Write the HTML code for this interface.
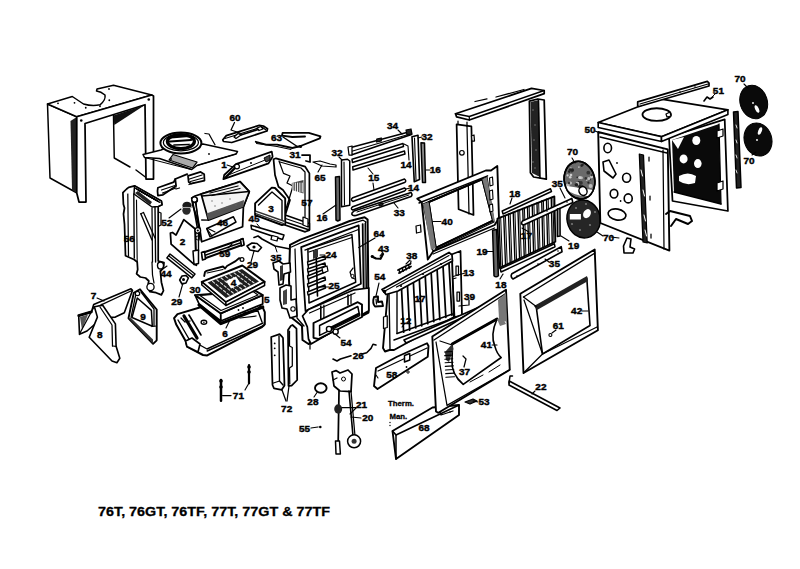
<!DOCTYPE html>
<html><head><meta charset="utf-8"><style>
html,body{margin:0;padding:0;background:#fff;width:800px;height:569px;overflow:hidden}
svg{display:block}
text{font-family:"Liberation Sans",sans-serif;font-weight:bold;fill:#000}
</style></head><body>
<svg width="800" height="569" viewBox="0 0 800 569">
<path d="M47.5,104 L76.75,116.75 L77,193 L50,178 Z" fill="#fff" stroke="#000" stroke-width="1.50" stroke-linejoin="round" />
<path d="M70.5,121 L76.75,117 L77,193 L72,190 Z" fill="#222" stroke="none"/>
<path d="M47.5,104 L72.3,96.5 L83.5,104 Q92,106.5 100,104.8 Q106,100 105,95 Q101,91.5 96.5,91 L97,89 L113.5,85.25 L151.75,95 L76.75,116.75 Z" fill="#fff" stroke="#000" stroke-width="1.50" stroke-linejoin="round" />
<circle cx="58" cy="103.3" r="0.9" fill="#000" stroke="#000" stroke-width="0"/>
<circle cx="74.5" cy="102.8" r="0.9" fill="#000" stroke="#000" stroke-width="0"/>
<circle cx="85.75" cy="107.75" r="0.9" fill="#000" stroke="#000" stroke-width="0"/>
<circle cx="100" cy="106.25" r="0.9" fill="#000" stroke="#000" stroke-width="0"/>
<circle cx="109.3" cy="100.25" r="0.9" fill="#000" stroke="#000" stroke-width="0"/>
<circle cx="109" cy="89" r="0.9" fill="#000" stroke="#000" stroke-width="0"/>
<path d="M113.5,115.25 L114.25,158 L130,167" fill="none" stroke="#000" stroke-width="1.50" stroke-linejoin="round" stroke-linecap="round"/>
<path d="M136,170 L146,177.5" fill="none" stroke="#000" stroke-width="1.50" stroke-linejoin="round" stroke-linecap="round"/>
<path d="M113.5,115.5 L145,105 L114.25,125 Z" fill="#111" stroke="none"/>
<path d="M76.75,116.75 L151.75,95 L153.5,96 L153.5,179 L146,179 L145,104.75 L85,123.5 L86,202 L79,202 L76.75,193 Z" fill="#fff" stroke="#000" stroke-width="1.75" stroke-linejoin="round" />
<circle cx="81.25" cy="120.5" r="1.3" fill="#000" stroke="#000" stroke-width="0"/>
<circle cx="148.75" cy="99.5" r="1.3" fill="#000" stroke="#000" stroke-width="0"/>
<path d="M143,154.5 L161,150 L170,146 L203,144 L237.5,151.5 L236,154 L197,165.5 L191.75,169.5 L159.5,158.5 L144.5,157.5 Z" fill="#fff" stroke="#000" stroke-width="1.50" stroke-linejoin="round" />
<path d="M144.5,157.5 L191,169.5" fill="none" stroke="#000" stroke-width="1.00" stroke-linejoin="round" stroke-linecap="round"/>
<path d="M197,165.5 L236,154" fill="none" stroke="#000" stroke-width="1.00" stroke-linejoin="round" stroke-linecap="round"/>
<path d="M173,154.5 L197,162 L192.5,168 L169,160 Z" fill="#aaa" stroke="#000" stroke-width="1.25" stroke-linejoin="round" />
<ellipse cx="180.9" cy="143" rx="20.5" ry="10.5" transform="rotate(0 180.9 143)" fill="#fff" stroke="#000" stroke-width="2.00"/>
<ellipse cx="180.9" cy="142.5" rx="17.5" ry="8.3" transform="rotate(0 180.9 142.5)" fill="none" stroke="#000" stroke-width="1.25"/>
<ellipse cx="180.9" cy="141.5" rx="13.5" ry="7" transform="rotate(0 180.9 141.5)" fill="#fff" stroke="#000" stroke-width="3.25"/>
<path d="M171,137.5 L189,136" fill="none" stroke="#000" stroke-width="2.00" stroke-linejoin="round" stroke-linecap="round"/>
<path d="M170,141.5 L191,140" fill="none" stroke="#000" stroke-width="2.25" stroke-linejoin="round" stroke-linecap="round"/>
<path d="M174,145 L189,144.5" fill="none" stroke="#000" stroke-width="1.75" stroke-linejoin="round" stroke-linecap="round"/>
<path d="M205,133.5 L209,134 L212,139.5 L215,144.75" fill="none" stroke="#000" stroke-width="1.25" stroke-linejoin="round" stroke-linecap="round"/>
<circle cx="209" cy="154" r="0.9" fill="#000" stroke="#000" stroke-width="0"/>
<circle cx="171" cy="159" r="0.9" fill="#000" stroke="#000" stroke-width="0"/>
<path d="M222.8,139.8 L226.3,135.6 L259.3,125.3 L263.4,126 L267.5,128.8 L267,131 L231.8,142.5 L223.5,141.5 Z" fill="#fff" stroke="#000" stroke-width="1.75" stroke-linejoin="round" />
<path d="M225,138.5 L262,127 L266,130" fill="none" stroke="#000" stroke-width="1.25" stroke-linejoin="round" stroke-linecap="round"/>
<path d="M234,137 L238,133.5 L241,135 L236,138.5 Z" fill="#fff" stroke="#000" stroke-width="1.25" stroke-linejoin="round" />
<path d="M257,128 L261,126.5 L263,129 L259,130.5 Z" fill="#fff" stroke="#000" stroke-width="1.25" stroke-linejoin="round" />
<path d="M241,135 L258,129.5" fill="none" stroke="#000" stroke-width="1.62" stroke-linejoin="round" stroke-linecap="round"/>
<path d="M234.5,122.5 L231,130 L240,133" fill="none" stroke="#000" stroke-width="1.25" stroke-linejoin="round" stroke-linecap="round"/>
<text x="235" y="120.70" font-size="9.1" text-anchor="middle" textLength="11.13" lengthAdjust="spacingAndGlyphs" stroke="#000" stroke-width="0.4">60</text>
<path d="M255.8,141.8 L266.1,144.6 L277.1,144.6 L292.3,148 L300.5,146 L319.8,138.4 L320.5,136.3 L308.8,132.9 L282.6,132.9 L282,135.6 L292.3,137 L305,136.5" fill="none" stroke="#000" stroke-width="1.88" stroke-linejoin="round" stroke-linecap="round"/>
<path d="M256.5,143.5 L277,146.5 L291,149.5" fill="none" stroke="#000" stroke-width="1.12" stroke-linejoin="round" stroke-linecap="round"/>
<path d="M283,137 L298,147" fill="none" stroke="#000" stroke-width="1.50" stroke-linejoin="round" stroke-linecap="round"/>
<circle cx="300.5" cy="146.5" r="1.6" fill="#000" stroke="#000" stroke-width="0"/>
<text x="276.5" y="140.90" font-size="9.1" text-anchor="middle" textLength="11.13" lengthAdjust="spacingAndGlyphs" stroke="#000" stroke-width="0.4">63</text>
<path d="M302,155 L310,155 L310,162 L306,161" fill="none" stroke="#000" stroke-width="1.75" stroke-linejoin="round" stroke-linecap="round"/>
<text x="295" y="158.20" font-size="9.1" text-anchor="middle" textLength="11.13" lengthAdjust="spacingAndGlyphs" stroke="#000" stroke-width="0.4">31</text>
<path d="M313,162 L320,161 L330,164 L336,165 L336,167 L322,166 Z" fill="#fff" stroke="#000" stroke-width="1.25" stroke-linejoin="round" />
<path d="M318,172 L322,165" fill="none" stroke="#000" stroke-width="1.12" stroke-linejoin="round" stroke-linecap="round"/>
<text x="320" y="180.70" font-size="9.1" text-anchor="middle" textLength="11.13" lengthAdjust="spacingAndGlyphs" stroke="#000" stroke-width="0.4">65</text>
<path d="M175.3,179 L187.2,174.2" fill="none" stroke="#000" stroke-width="1.88" stroke-linejoin="round" stroke-linecap="round"/>
<path d="M157.9,187.7 L173.7,182.1 L175.3,179 L176.1,186.1 L163,194.8 L157.9,195.6 L157.5,191 Z" fill="#fff" stroke="#000" stroke-width="1.75" stroke-linejoin="round" />
<path d="M161.5,190 L175,185.5" fill="none" stroke="#000" stroke-width="1.25" stroke-linejoin="round" stroke-linecap="round"/>
<path d="M162.5,193 L176,188" fill="none" stroke="#000" stroke-width="1.25" stroke-linejoin="round" stroke-linecap="round"/>
<path d="M176,189 L179.5,188" fill="none" stroke="#000" stroke-width="1.25" stroke-linejoin="round" stroke-linecap="round"/>
<path d="M188,175.8 L200.6,171.9 L204.2,174.2 L204.5,180.6 L191.1,183.7 L188.7,182.1 Z" fill="#fff" stroke="#000" stroke-width="1.75" stroke-linejoin="round" />
<path d="M189.5,179 L202,175" fill="none" stroke="#000" stroke-width="1.25" stroke-linejoin="round" stroke-linecap="round"/>
<path d="M190.5,181.5 L203,178" fill="none" stroke="#000" stroke-width="1.25" stroke-linejoin="round" stroke-linecap="round"/>
<path d="M189,184.5 L195,182.5" fill="none" stroke="#000" stroke-width="1.25" stroke-linejoin="round" stroke-linecap="round"/>
<path d="M224.2,175 L235.9,164.2 L271.8,151.7 L272.6,156.7 L268.5,163.4 L223.4,179.2 Z" fill="#fff" stroke="#000" stroke-width="1.75" stroke-linejoin="round" />
<path d="M226,176 L270,158" fill="none" stroke="#000" stroke-width="1.00" stroke-linejoin="round" stroke-linecap="round"/>
<path d="M225,178 L233,170 L236,167" fill="none" stroke="#000" stroke-width="2.25" stroke-linejoin="round" stroke-linecap="round"/>
<circle cx="237" cy="166.5" r="2.4" fill="#fff" stroke="#000" stroke-width="1.2"/>
<circle cx="251" cy="163" r="1" fill="#000" stroke="#000" stroke-width="0"/>
<path d="M264,158 L270,155 L270,160 L266,162 Z" fill="#444" stroke="#000" stroke-width="1.00" stroke-linejoin="round" />
<text x="224" y="168.20" font-size="9.1" text-anchor="middle" textLength="5.57" lengthAdjust="spacingAndGlyphs" stroke="#000" stroke-width="0.4">1</text>
<path d="M227,165 L233,167" fill="none" stroke="#000" stroke-width="1.12" stroke-linejoin="round" stroke-linecap="round"/>
<path d="M273.5,159.2 L276,158.3 L305.2,166.7 L309.4,173.4 L309.4,230.1 L305.2,231.8 L285,225 L285.2,215.1 L290,200 L283,190 L278.5,186.7 L275,175 Z" fill="#fff" stroke="#000" stroke-width="1.75" stroke-linejoin="round" />
<path d="M279,161 L283.5,173.4 L290,176 L287,183 L293,186 L290,196 L285,212" fill="none" stroke="#000" stroke-width="1.25" stroke-linejoin="round" stroke-linecap="round"/>
<path d="M280,162 L301,168 L305,172 L305,222" fill="none" stroke="#000" stroke-width="1.25" stroke-linejoin="round" stroke-linecap="round"/>
<path d="M291.8,183 L303.5,180 L303.5,193.4 L291.8,190 Z" fill="#444" stroke="none"/>
<path d="M293,183 L293,192" fill="none" stroke="#fff" stroke-width="1.00" stroke-linejoin="round" stroke-linecap="round"/>
<path d="M295.3,183 L295.3,192" fill="none" stroke="#fff" stroke-width="1.00" stroke-linejoin="round" stroke-linecap="round"/>
<path d="M297.6,183 L297.6,192" fill="none" stroke="#fff" stroke-width="1.00" stroke-linejoin="round" stroke-linecap="round"/>
<path d="M299.9,183 L299.9,192" fill="none" stroke="#fff" stroke-width="1.00" stroke-linejoin="round" stroke-linecap="round"/>
<path d="M302.2,183 L302.2,192" fill="none" stroke="#fff" stroke-width="1.00" stroke-linejoin="round" stroke-linecap="round"/>
<path d="M285.2,215.1 L309.4,223.5 L309.4,230.1 L285.2,222 Z" fill="#fff" stroke="#000" stroke-width="1.62" stroke-linejoin="round" />
<path d="M285.5,218.5 L309,226.5" fill="none" stroke="#000" stroke-width="1.25" stroke-linejoin="round" stroke-linecap="round"/>
<path d="M303,217 L308,219 L308,227 L303,225 Z" fill="#fff" stroke="#000" stroke-width="1.25" stroke-linejoin="round" />
<text x="306.9" y="205.80" font-size="9.1" text-anchor="middle" textLength="11.13" lengthAdjust="spacingAndGlyphs" stroke="#000" stroke-width="0.4">57</text>
<path d="M255.1,203.4 L271.8,187.6 L275,188 L285.2,198.4 L285.2,224.3 L282,225 L255.1,215.1 Z" fill="#fff" stroke="#000" stroke-width="1.88" stroke-linejoin="round" />
<path d="M258.5,205 L272,192 L282,200.5 L282,222" fill="none" stroke="#000" stroke-width="1.38" stroke-linejoin="round" stroke-linecap="round"/>
<path d="M256,210.5 L284.5,220.5 L284.5,224.5 L256,214.5 Z" fill="#333" stroke="none"/>
<path d="M256,212.5 L284,222.5" fill="none" stroke="#fff" stroke-width="1.00" stroke-linejoin="round" stroke-linecap="round"/>
<text x="271" y="211.60" font-size="9.1" text-anchor="middle" textLength="5.57" lengthAdjust="spacingAndGlyphs" stroke="#000" stroke-width="0.4">3</text>
<path d="M122.9,192.7 L126.6,189 L128.7,187.4 L134.5,185.8 L161.4,201.1 L162,204.8 L158.2,206.4 L158.2,261 L164,262.7 L163.5,267.4 L160.4,271.6 L161.4,282.2 L163.5,290.6 L161.4,294.9 L156.1,292.7 L149.8,291.7 L147.7,286.4 L148.8,281 L145.6,278 L140.3,277 L136.6,273.8 L137.7,269.5 L137.2,262 L134,259.5 L125.5,255.8 L124.5,224.3 L123.5,214 L124.5,208 L123.4,204.3 Z" fill="#fff" stroke="#000" stroke-width="1.75" stroke-linejoin="round" />
<path d="M134.5,185.8 L161.4,201.1 L162,204.8 L158.2,206.4 L152,207 L134,194 Z" fill="#fff" stroke="#000" stroke-width="1.50" stroke-linejoin="round" />
<path d="M135,188 L155,199.5" fill="none" stroke="#000" stroke-width="1.12" stroke-linejoin="round" stroke-linecap="round"/>
<path d="M135.833,188.5 L155.833,200" fill="none" stroke="#000" stroke-width="1.12" stroke-linejoin="round" stroke-linecap="round"/>
<path d="M136.667,189 L156.667,200.5" fill="none" stroke="#000" stroke-width="1.12" stroke-linejoin="round" stroke-linecap="round"/>
<path d="M137.5,189.5 L157.5,201" fill="none" stroke="#000" stroke-width="1.12" stroke-linejoin="round" stroke-linecap="round"/>
<path d="M138.333,190 L158.333,201.5" fill="none" stroke="#000" stroke-width="1.12" stroke-linejoin="round" stroke-linecap="round"/>
<path d="M139.167,190.5 L159.167,202" fill="none" stroke="#000" stroke-width="1.12" stroke-linejoin="round" stroke-linecap="round"/>
<path d="M140,191 L160,202.5" fill="none" stroke="#000" stroke-width="1.12" stroke-linejoin="round" stroke-linecap="round"/>
<path d="M135,193 L138,191 L152,202 L150,205 Z" fill="#222" stroke="none"/>
<path d="M127.8,194 L128.5,256" fill="none" stroke="#000" stroke-width="1.25" stroke-linejoin="round" stroke-linecap="round"/>
<path d="M133.8,194 L134.3,258" fill="none" stroke="#000" stroke-width="1.38" stroke-linejoin="round" stroke-linecap="round"/>
<path d="M136.5,200 L137.2,262" fill="none" stroke="#000" stroke-width="1.12" stroke-linejoin="round" stroke-linecap="round"/>
<path d="M140.8,213.8 L152,240" fill="none" stroke="#000" stroke-width="1.38" stroke-linejoin="round" stroke-linecap="round"/>
<path d="M143.5,212.5 L155,238" fill="none" stroke="#000" stroke-width="1.25" stroke-linejoin="round" stroke-linecap="round"/>
<path d="M140.8,213.8 L143.5,212.5" fill="none" stroke="#000" stroke-width="1.25" stroke-linejoin="round" stroke-linecap="round"/>
<path d="M152,208 L152.5,262" fill="none" stroke="#000" stroke-width="1.25" stroke-linejoin="round" stroke-linecap="round"/>
<path d="M155,207 L155.6,262" fill="none" stroke="#000" stroke-width="1.38" stroke-linejoin="round" stroke-linecap="round"/>
<path d="M152,262 L152.5,275 L154,283" fill="none" stroke="#000" stroke-width="1.25" stroke-linejoin="round" stroke-linecap="round"/>
<circle cx="150.5" cy="287" r="3.6" fill="#fff" stroke="#000" stroke-width="1.3"/>
<ellipse cx="160.5" cy="265.5" rx="3" ry="3.5" transform="rotate(0 160.5 265.5)" fill="#fff" stroke="#000" stroke-width="1.38"/>
<path d="M158.5,212 L161,213 L161,225 L159,226" fill="none" stroke="#000" stroke-width="1.25" stroke-linejoin="round" stroke-linecap="round"/>
<text x="129.25" y="241.70" font-size="9.1" text-anchor="middle" textLength="11.13" lengthAdjust="spacingAndGlyphs" stroke="#000" stroke-width="0.4">56</text>
<ellipse cx="187" cy="205.5" rx="4.6" ry="3.8" fill="#1a1a1a"/>
<ellipse cx="186.5" cy="210.5" rx="4.2" ry="4.2" fill="#2a2a2a"/>
<path d="M182.5,207.5 L191.5,207.5" fill="none" stroke="#aaa" stroke-width="1.00" stroke-linejoin="round" stroke-linecap="round"/>
<path d="M169,218 L181,209" fill="none" stroke="#000" stroke-width="1.12" stroke-linejoin="round" stroke-linecap="round"/>
<text x="166.75" y="225.95" font-size="9.1" text-anchor="middle" textLength="11.13" lengthAdjust="spacingAndGlyphs" stroke="#000" stroke-width="0.4">52</text>
<path d="M191.7,198 L195,196 L200.9,194.2 L235.1,183.4 L240,181.7 L249.3,191.7 L243.4,206.8 L242.6,226.8 L201.7,241.8 L200,230 L196,215 L193,206 Z" fill="#fff" stroke="#000" stroke-width="1.75" stroke-linejoin="round" />
<path d="M200.9,194.2 L235.1,183.4 L240,181.7 L249.3,191.7 L243.4,206.8 L208.4,220.1 L201.7,195.9 Z" fill="#f4f4f4" stroke="#000" stroke-width="1.75" stroke-linejoin="round" />
<path d="M201.7,195.9 L249.3,191.7" fill="none" stroke="#000" stroke-width="0.12" stroke-linejoin="round" stroke-linecap="round"/>
<path d="M202,196 L249,191.5" fill="none" stroke="#000" stroke-width="1.50" stroke-linejoin="round" stroke-linecap="round"/>
<path d="M210,193 L238,186" fill="none" stroke="#000" stroke-width="1.25" stroke-linejoin="round" stroke-linecap="round"/>
<path d="M212,195.5 L240,188.5" fill="none" stroke="#000" stroke-width="1.25" stroke-linejoin="round" stroke-linecap="round"/>
<path d="M206.5,213.5 L244,200 L243.4,206.8 L208.4,220.1 Z" fill="#555" stroke="none"/>
<circle cx="215" cy="206" r="0.7" fill="#666" stroke="#000" stroke-width="0"/>
<circle cx="222" cy="203" r="0.7" fill="#666" stroke="#000" stroke-width="0"/>
<circle cx="230" cy="199" r="0.7" fill="#666" stroke="#000" stroke-width="0"/>
<circle cx="236" cy="205" r="0.7" fill="#666" stroke="#000" stroke-width="0"/>
<circle cx="219" cy="210" r="0.7" fill="#666" stroke="#000" stroke-width="0"/>
<circle cx="227" cy="207" r="0.7" fill="#666" stroke="#000" stroke-width="0"/>
<circle cx="212" cy="201" r="0.7" fill="#666" stroke="#000" stroke-width="0"/>
<path d="M201.7,220 L208.4,220.1" fill="none" stroke="#000" stroke-width="1.38" stroke-linejoin="round" stroke-linecap="round"/>
<path d="M206.7,228.5 L233.4,216.8 L236,222 L210,236.8 Z" fill="#fff" stroke="#000" stroke-width="1.50" stroke-linejoin="round" />
<path d="M207,229 L212,236" fill="none" stroke="#000" stroke-width="1.25" stroke-linejoin="round" stroke-linecap="round"/>
<path d="M208,228.5 L215,232" fill="none" stroke="#000" stroke-width="1.12" stroke-linejoin="round" stroke-linecap="round"/>
<path d="M196,202 L200,240" fill="none" stroke="#000" stroke-width="1.25" stroke-linejoin="round" stroke-linecap="round"/>
<circle cx="195" cy="200" r="2.6" fill="#fff" stroke="#000" stroke-width="1.1"/>
<circle cx="197.5" cy="238" r="1.8" fill="#fff" stroke="#000" stroke-width="1"/>
<text x="222.6" y="225.80" font-size="9.1" text-anchor="middle" textLength="11.13" lengthAdjust="spacingAndGlyphs" stroke="#000" stroke-width="0.4">46</text>
<path d="M170.4,233 L172.5,232.5 L176,235.1 L183.8,219.6 L195,228.8 L196.4,262.5 L196.4,265.3 L193.6,263.9 L171.1,244.2 Z" fill="#fff" stroke="#000" stroke-width="1.75" stroke-linejoin="round" />
<path d="M192.2,199 L197.8,230.2" fill="none" stroke="#000" stroke-width="1.62" stroke-linejoin="round" stroke-linecap="round"/>
<path d="M194.8,198.5 L200,229.5" fill="none" stroke="#000" stroke-width="1.38" stroke-linejoin="round" stroke-linecap="round"/>
<circle cx="194.5" cy="199.5" r="2.6" fill="#fff" stroke="#000" stroke-width="1.2"/>
<circle cx="197.8" cy="230.5" r="2.8" fill="#fff" stroke="#000" stroke-width="1.3"/>
<circle cx="197.8" cy="230.5" r="1.1" fill="#000" stroke="#000" stroke-width="0"/>
<path d="M195.5,233 L195.5,251" fill="none" stroke="#000" stroke-width="1.50" stroke-linejoin="round" stroke-linecap="round"/>
<path d="M198.5,233 L198.5,251" fill="none" stroke="#000" stroke-width="1.38" stroke-linejoin="round" stroke-linecap="round"/>
<path d="M193,251 L198.5,250 L198.5,263.5 L194,264.5 Z" fill="#fff" stroke="#000" stroke-width="1.50" stroke-linejoin="round" />
<text x="182.5" y="244.70" font-size="9.1" text-anchor="middle" textLength="5.57" lengthAdjust="spacingAndGlyphs" stroke="#000" stroke-width="0.4">2</text>
<path d="M170,254 L195,274 L191.877,277.904 L166.877,257.904 Z" fill="#fff" stroke="#000" stroke-width="1.50" stroke-linejoin="round" />
<path d="M168.594,255.757 L193.594,275.757" fill="none" stroke="#000" stroke-width="1.20" stroke-linejoin="round" stroke-linecap="round"/>
<path d="M160,271 L167,266" fill="none" stroke="#000" stroke-width="1.12" stroke-linejoin="round" stroke-linecap="round"/>
<text x="166" y="277.20" font-size="9.1" text-anchor="middle" textLength="11.13" lengthAdjust="spacingAndGlyphs" stroke="#000" stroke-width="0.4">44</text>
<path d="M179.7,280 L182,276 L186,275.5 L188.4,278 L186,283 L182,284 Z" fill="#fff" stroke="#000" stroke-width="1.62" stroke-linejoin="round" />
<circle cx="183.5" cy="279.5" r="1.5" fill="#000" stroke="#000" stroke-width="0"/>
<path d="M183,283 L179,297" fill="none" stroke="#000" stroke-width="1.12" stroke-linejoin="round" stroke-linecap="round"/>
<text x="176.8" y="304.50" font-size="9.1" text-anchor="middle" textLength="11.13" lengthAdjust="spacingAndGlyphs" stroke="#000" stroke-width="0.4">29</text>
<path d="M202,253 L242.8,239 L243.5,244.5 L203,259 Z" fill="#fff" stroke="#000" stroke-width="2.00" stroke-linejoin="round" />
<path d="M204.5,255.5 L241.5,242.5" fill="none" stroke="#000" stroke-width="1.38" stroke-linejoin="round" stroke-linecap="round"/>
<path d="M201.5,252.5 L204.5,251.5 L205.5,259 L202.5,260 Z" fill="#fff" stroke="#000" stroke-width="1.62" stroke-linejoin="round" />
<path d="M240.5,239.5 L243,238.5 L244,245 L241.5,246 Z" fill="#fff" stroke="#000" stroke-width="1.62" stroke-linejoin="round" />
<path d="M228,248 L232,244" fill="none" stroke="#000" stroke-width="1.12" stroke-linejoin="round" stroke-linecap="round"/>
<text x="224.75" y="256.70" font-size="9.1" text-anchor="middle" textLength="11.13" lengthAdjust="spacingAndGlyphs" stroke="#000" stroke-width="0.4">59</text>
<path d="M251,225.25 L284,235 L282.5,239.5 L251.5,229 Z" fill="#fff" stroke="#000" stroke-width="1.50" stroke-linejoin="round" />
<path d="M272,235.5 L278,237 L277,241 L271,239.5 Z" fill="#fff" stroke="#000" stroke-width="1.25" stroke-linejoin="round" />
<path d="M257,224 L260,227.5" fill="none" stroke="#000" stroke-width="1.00" stroke-linejoin="round" stroke-linecap="round"/>
<text x="254" y="222.45" font-size="9.1" text-anchor="middle" textLength="11.13" lengthAdjust="spacingAndGlyphs" stroke="#000" stroke-width="0.4">45</text>
<path d="M247,246 L252,243 L257,243.5 L261.5,247.5 L258,251.5 L250,250 Z" fill="#fff" stroke="#000" stroke-width="1.62" stroke-linejoin="round" />
<circle cx="254" cy="247" r="1.6" fill="#000" stroke="#000" stroke-width="0"/>
<path d="M254,251 L251,262" fill="none" stroke="#000" stroke-width="1.12" stroke-linejoin="round" stroke-linecap="round"/>
<text x="252.5" y="268.20" font-size="9.1" text-anchor="middle" textLength="11.13" lengthAdjust="spacingAndGlyphs" stroke="#000" stroke-width="0.4">29</text>
<path d="M254,237.5 L258,236 L262,239 L275,246 L290,249 L296,251" fill="none" stroke="#000" stroke-width="1.62" stroke-linejoin="round" stroke-linecap="round"/>
<path d="M275,246 L277,252" fill="none" stroke="#000" stroke-width="1.00" stroke-linejoin="round" stroke-linecap="round"/>
<path d="M335.5,177 L339.5,176.5 L340,220 L337.75,221 L336,220 Z" fill="#666" stroke="#000" stroke-width="1.50" stroke-linejoin="round" />
<path d="M323,214 L336,205" fill="none" stroke="#000" stroke-width="1.12" stroke-linejoin="round" stroke-linecap="round"/>
<text x="322" y="221.20" font-size="9.1" text-anchor="middle" textLength="11.13" lengthAdjust="spacingAndGlyphs" stroke="#000" stroke-width="0.4">16</text>
<path d="M341.5,160 L347.5,159.25 L349.75,161 L349.75,205.25 L341.5,206.75 Z" fill="#fff" stroke="#000" stroke-width="1.50" stroke-linejoin="round" />
<path d="M344,162 L344.5,205" fill="none" stroke="#000" stroke-width="1.12" stroke-linejoin="round" stroke-linecap="round"/>
<path d="M339,157 L342,160" fill="none" stroke="#000" stroke-width="1.12" stroke-linejoin="round" stroke-linecap="round"/>
<text x="337" y="155.70" font-size="9.1" text-anchor="middle" textLength="11.13" lengthAdjust="spacingAndGlyphs" stroke="#000" stroke-width="0.4">32</text>
<path d="M349,148 L410.5,131.5 L411.5,134.5 L352,154.75 Z" fill="#fff" stroke="#000" stroke-width="1.62" stroke-linejoin="round" />
<path d="M351,151.5 L410,134" fill="none" stroke="#000" stroke-width="1.25" stroke-linejoin="round" stroke-linecap="round"/>
<path d="M348,147 L352,146 L352,155 L349,155 Z" fill="#fff" stroke="#000" stroke-width="1.25" stroke-linejoin="round" />
<path d="M376.75,139 L381.25,138 L381.25,141 L376.75,142 Z" fill="#222" stroke="#000" stroke-width="1.25" stroke-linejoin="round" />
<path d="M406,130 L411,129 L412,134 L407,135 Z" fill="#222" stroke="#000" stroke-width="1.25" stroke-linejoin="round" />
<path d="M398,130 L402,134" fill="none" stroke="#000" stroke-width="1.12" stroke-linejoin="round" stroke-linecap="round"/>
<text x="392.5" y="129.45" font-size="9.1" text-anchor="middle" textLength="11.13" lengthAdjust="spacingAndGlyphs" stroke="#000" stroke-width="0.4">34</text>
<path d="M352,159.25 L403,143.5 L403.5,146.5 L352.5,162.5 Z" fill="#fff" stroke="#000" stroke-width="1.50" stroke-linejoin="round" />
<path d="M404,144 L408,146 L409,160" fill="none" stroke="#000" stroke-width="1.12" stroke-linejoin="round" stroke-linecap="round"/>
<text x="406" y="167.70" font-size="9.1" text-anchor="middle" textLength="11.13" lengthAdjust="spacingAndGlyphs" stroke="#000" stroke-width="0.4">14</text>
<path d="M352.75,166.75 L404.5,151 L405,154 L353,170 Z" fill="#fff" stroke="#000" stroke-width="1.50" stroke-linejoin="round" />
<path d="M368,168 L373,174" fill="none" stroke="#000" stroke-width="1.12" stroke-linejoin="round" stroke-linecap="round"/>
<path d="M373,183 L374,190" fill="none" stroke="#000" stroke-width="1.12" stroke-linejoin="round" stroke-linecap="round"/>
<text x="373.75" y="181.20" font-size="9.1" text-anchor="middle" textLength="11.13" lengthAdjust="spacingAndGlyphs" stroke="#000" stroke-width="0.4">15</text>
<path d="M352.75,197.75 L404.5,179 Q407,181 404.5,182.5 L352.75,201.5 Q350,199.5 352.75,197.75 Z" fill="#fff" stroke="#000" stroke-width="1.50" stroke-linejoin="round" />
<path d="M352.75,206.75 L404.5,188 Q407,189.5 404.5,191 L352.75,210 Q350,208.5 352.75,206.75 Z" fill="#fff" stroke="#000" stroke-width="1.50" stroke-linejoin="round" />
<path d="M406,189 L410,188" fill="none" stroke="#000" stroke-width="1.12" stroke-linejoin="round" stroke-linecap="round"/>
<text x="413.5" y="191.20" font-size="9.1" text-anchor="middle" textLength="11.13" lengthAdjust="spacingAndGlyphs" stroke="#000" stroke-width="0.4">14</text>
<path d="M354,211 L411,192.5 Q413,195 411,196.5 L356,215.5 Q351,216 352,213 Z" fill="#fff" stroke="#000" stroke-width="1.62" stroke-linejoin="round" />
<path d="M357,212 L409,195" fill="none" stroke="#000" stroke-width="1.00" stroke-linejoin="round" stroke-linecap="round"/>
<path d="M379,204 L383,203 L383,205 L379,206 Z" fill="#222" stroke="#000" stroke-width="1.00" stroke-linejoin="round" />
<path d="M394,203 L398,208" fill="none" stroke="#000" stroke-width="1.12" stroke-linejoin="round" stroke-linecap="round"/>
<text x="399.25" y="215.95" font-size="9.1" text-anchor="middle" textLength="11.13" lengthAdjust="spacingAndGlyphs" stroke="#000" stroke-width="0.4">33</text>
<path d="M412,136.75 L418,135.25 L419.5,179.5 L414.25,181.75 Z" fill="#fff" stroke="#000" stroke-width="1.62" stroke-linejoin="round" />
<path d="M414.5,138 L416,180" fill="none" stroke="#000" stroke-width="1.12" stroke-linejoin="round" stroke-linecap="round"/>
<path d="M418,138 L422,137" fill="none" stroke="#000" stroke-width="1.12" stroke-linejoin="round" stroke-linecap="round"/>
<text x="427" y="139.95" font-size="9.1" text-anchor="middle" textLength="11.13" lengthAdjust="spacingAndGlyphs" stroke="#000" stroke-width="0.4">32</text>
<path d="M421,142.75 L424.5,143 L425.5,182.5 L422.5,182.5 Z" fill="#888" stroke="#000" stroke-width="1.50" stroke-linejoin="round" />
<path d="M426,170 L430,170" fill="none" stroke="#000" stroke-width="1.12" stroke-linejoin="round" stroke-linecap="round"/>
<text x="435.25" y="172.95" font-size="9.1" text-anchor="middle" textLength="11.13" lengthAdjust="spacingAndGlyphs" stroke="#000" stroke-width="0.4">16</text>
<path d="M174.1,318.2 L177.5,314.1 L200.5,307.3 L254.6,303 L262.7,307.3 L264.8,312.1 L264.8,324.2 L262,327 L207.2,355.4 L203,355 L187,346.6 L185.6,341 L176.1,324.2 Z" fill="#fff" stroke="#000" stroke-width="2.00" stroke-linejoin="round" />
<path d="M178,320 L189,339 L207,349 L263,323" fill="none" stroke="#000" stroke-width="1.38" stroke-linejoin="round" stroke-linecap="round"/>
<path d="M184,316 L197,338" fill="none" stroke="#000" stroke-width="3.25" stroke-linejoin="round" stroke-linecap="round"/>
<path d="M189,315 L201,335" fill="none" stroke="#000" stroke-width="1.62" stroke-linejoin="round" stroke-linecap="round"/>
<path d="M181,318 L185,322 L190,321" fill="none" stroke="#000" stroke-width="1.25" stroke-linejoin="round" stroke-linecap="round"/>
<path d="M185.6,341 L192,338 L200,344 L198,352 L187,346.6 Z" fill="#fff" stroke="#000" stroke-width="1.62" stroke-linejoin="round" />
<path d="M244,313 L258,311 L262,322" fill="none" stroke="#000" stroke-width="1.38" stroke-linejoin="round" stroke-linecap="round"/>
<path d="M240,318 L256,316" fill="none" stroke="#000" stroke-width="1.25" stroke-linejoin="round" stroke-linecap="round"/>
<path d="M207.2,351 L264,325.5" fill="none" stroke="#000" stroke-width="1.50" stroke-linejoin="round" stroke-linecap="round"/>
<ellipse cx="203.9" cy="322.2" rx="2.8" ry="2" transform="rotate(0 203.9 322.2)" fill="none" stroke="#000" stroke-width="1.38"/>
<circle cx="203.9" cy="322.2" r="0.8" fill="#000" stroke="#000" stroke-width="0"/>
<path d="M195.1,295.1 L220.8,313.4 L220.8,321 L199.1,304 Z" fill="#fff" stroke="#000" stroke-width="1.75" stroke-linejoin="round" />
<path d="M220.8,313.4 L262.7,295.1 L262.7,304 L220.8,321 Z" fill="#fff" stroke="#000" stroke-width="1.75" stroke-linejoin="round" />
<path d="M199.1,305 L220.8,323.5 L262.7,307" fill="none" stroke="#000" stroke-width="3.25" stroke-linejoin="round" stroke-linecap="round"/>
<path d="M195.1,295.1 L254.6,290.4 L262.7,295.1 L220.8,313.4 Z" fill="#fff" stroke="#000" stroke-width="1.88" stroke-linejoin="round" />
<path d="M200,295.5 L253,291.5 L258,295 L221,310.5 L200,295.5" fill="none" stroke="#000" stroke-width="1.25" stroke-linejoin="round" stroke-linecap="round"/>
<circle cx="238.5" cy="310" r="0.9" fill="#000" stroke="#000" stroke-width="0"/>
<circle cx="243" cy="308" r="0.9" fill="#000" stroke="#000" stroke-width="0"/>
<text x="266.7" y="302.50" font-size="9.1" text-anchor="middle" textLength="5.57" lengthAdjust="spacingAndGlyphs" stroke="#000" stroke-width="0.4">5</text>
<path d="M204.2,276 L205,272 L206.6,270.8 L223,266.5 L225,268.5 L227,266 L235.6,261.1 L239,258.2 L242.3,259.2" fill="none" stroke="#000" stroke-width="1.88" stroke-linejoin="round" stroke-linecap="round"/>
<path d="M207,273 L223,269.5" fill="none" stroke="#000" stroke-width="1.12" stroke-linejoin="round" stroke-linecap="round"/>
<circle cx="242" cy="259.5" r="1.9" fill="#fff" stroke="#000" stroke-width="1.2"/>
<path d="M201.8,281.9 L242.3,265.5 L264.6,281.9 L225.9,302.2 Z" fill="#fff" stroke="#000" stroke-width="2.00" stroke-linejoin="round" />
<path d="M201.8,281.9 L225.9,302.2 L225.9,305.5 L201.8,285 Z" fill="#fff" stroke="#000" stroke-width="1.50" stroke-linejoin="round" />
<path d="M225.9,302.2 L264.6,281.9 L264.6,285.5 L225.9,305.5 Z" fill="#fff" stroke="#000" stroke-width="1.50" stroke-linejoin="round" />
<path d="M207.5,282.5 L242,269 L259,281.5 L226,298 Z" fill="#1e1e1e" stroke="none"/>
<path d="M212.545,281.418 L214.559,283.081" fill="none" stroke="#ddd" stroke-width="1.12" stroke-linejoin="round" stroke-linecap="round"/>
<path d="M216.208,284.442 L218.222,286.106" fill="none" stroke="#ddd" stroke-width="1.12" stroke-linejoin="round" stroke-linecap="round"/>
<path d="M219.87,287.467 L221.884,289.131" fill="none" stroke="#ddd" stroke-width="1.12" stroke-linejoin="round" stroke-linecap="round"/>
<path d="M223.532,290.493 L225.547,292.156" fill="none" stroke="#ddd" stroke-width="1.12" stroke-linejoin="round" stroke-linecap="round"/>
<path d="M227.195,293.517 L229.209,295.181" fill="none" stroke="#ddd" stroke-width="1.12" stroke-linejoin="round" stroke-linecap="round"/>
<path d="M216.85,279.715 L218.844,281.337" fill="none" stroke="#ddd" stroke-width="1.12" stroke-linejoin="round" stroke-linecap="round"/>
<path d="M220.475,282.665 L222.469,284.288" fill="none" stroke="#ddd" stroke-width="1.12" stroke-linejoin="round" stroke-linecap="round"/>
<path d="M224.1,285.615 L226.094,287.238" fill="none" stroke="#ddd" stroke-width="1.12" stroke-linejoin="round" stroke-linecap="round"/>
<path d="M227.725,288.565 L229.719,290.188" fill="none" stroke="#ddd" stroke-width="1.12" stroke-linejoin="round" stroke-linecap="round"/>
<path d="M231.35,291.515 L233.344,293.137" fill="none" stroke="#ddd" stroke-width="1.12" stroke-linejoin="round" stroke-linecap="round"/>
<path d="M221.155,278.012 L223.128,279.594" fill="none" stroke="#ddd" stroke-width="1.12" stroke-linejoin="round" stroke-linecap="round"/>
<path d="M224.743,280.887 L226.716,282.469" fill="none" stroke="#ddd" stroke-width="1.12" stroke-linejoin="round" stroke-linecap="round"/>
<path d="M228.33,283.762 L230.303,285.344" fill="none" stroke="#ddd" stroke-width="1.12" stroke-linejoin="round" stroke-linecap="round"/>
<path d="M231.917,286.637 L233.891,288.219" fill="none" stroke="#ddd" stroke-width="1.12" stroke-linejoin="round" stroke-linecap="round"/>
<path d="M235.505,289.512 L237.478,291.094" fill="none" stroke="#ddd" stroke-width="1.12" stroke-linejoin="round" stroke-linecap="round"/>
<path d="M225.46,276.31 L227.412,277.85" fill="none" stroke="#ddd" stroke-width="1.12" stroke-linejoin="round" stroke-linecap="round"/>
<path d="M229.01,279.11 L230.963,280.65" fill="none" stroke="#ddd" stroke-width="1.12" stroke-linejoin="round" stroke-linecap="round"/>
<path d="M232.56,281.91 L234.512,283.45" fill="none" stroke="#ddd" stroke-width="1.12" stroke-linejoin="round" stroke-linecap="round"/>
<path d="M236.11,284.71 L238.062,286.25" fill="none" stroke="#ddd" stroke-width="1.12" stroke-linejoin="round" stroke-linecap="round"/>
<path d="M239.66,287.51 L241.613,289.05" fill="none" stroke="#ddd" stroke-width="1.12" stroke-linejoin="round" stroke-linecap="round"/>
<path d="M229.765,274.608 L231.697,276.106" fill="none" stroke="#ddd" stroke-width="1.12" stroke-linejoin="round" stroke-linecap="round"/>
<path d="M233.278,277.332 L235.209,278.831" fill="none" stroke="#ddd" stroke-width="1.12" stroke-linejoin="round" stroke-linecap="round"/>
<path d="M236.79,280.058 L238.722,281.556" fill="none" stroke="#ddd" stroke-width="1.12" stroke-linejoin="round" stroke-linecap="round"/>
<path d="M240.303,282.783 L242.234,284.281" fill="none" stroke="#ddd" stroke-width="1.12" stroke-linejoin="round" stroke-linecap="round"/>
<path d="M243.815,285.507 L245.747,287.006" fill="none" stroke="#ddd" stroke-width="1.12" stroke-linejoin="round" stroke-linecap="round"/>
<path d="M234.07,272.905 L235.981,274.363" fill="none" stroke="#ddd" stroke-width="1.12" stroke-linejoin="round" stroke-linecap="round"/>
<path d="M237.545,275.555 L239.456,277.012" fill="none" stroke="#ddd" stroke-width="1.12" stroke-linejoin="round" stroke-linecap="round"/>
<path d="M241.02,278.205 L242.931,279.663" fill="none" stroke="#ddd" stroke-width="1.12" stroke-linejoin="round" stroke-linecap="round"/>
<path d="M244.495,280.855 L246.406,282.312" fill="none" stroke="#ddd" stroke-width="1.12" stroke-linejoin="round" stroke-linecap="round"/>
<path d="M247.97,283.505 L249.881,284.962" fill="none" stroke="#ddd" stroke-width="1.12" stroke-linejoin="round" stroke-linecap="round"/>
<path d="M238.375,271.202 L240.266,272.619" fill="none" stroke="#ddd" stroke-width="1.12" stroke-linejoin="round" stroke-linecap="round"/>
<path d="M241.812,273.777 L243.703,275.194" fill="none" stroke="#ddd" stroke-width="1.12" stroke-linejoin="round" stroke-linecap="round"/>
<path d="M245.25,276.353 L247.141,277.769" fill="none" stroke="#ddd" stroke-width="1.12" stroke-linejoin="round" stroke-linecap="round"/>
<path d="M248.688,278.928 L250.578,280.344" fill="none" stroke="#ddd" stroke-width="1.12" stroke-linejoin="round" stroke-linecap="round"/>
<path d="M252.125,281.502 L254.016,282.919" fill="none" stroke="#ddd" stroke-width="1.12" stroke-linejoin="round" stroke-linecap="round"/>
<path d="M226,281 L236,276.5 L241,284 L231,288.5 Z" fill="#fff" stroke="#000" stroke-width="0.00" stroke-linejoin="round" />
<text x="233.5" y="286.20" font-size="9.1" text-anchor="middle" textLength="5.57" lengthAdjust="spacingAndGlyphs" stroke="#000" stroke-width="0.4">4</text>
<text x="195.1" y="292.90" font-size="9.1" text-anchor="middle" textLength="11.13" lengthAdjust="spacingAndGlyphs" stroke="#000" stroke-width="0.4">30</text>
<text x="225.1" y="337.30" font-size="9.1" text-anchor="middle" textLength="5.57" lengthAdjust="spacingAndGlyphs" stroke="#000" stroke-width="0.4">6</text>
<path d="M226,328 L230,320" fill="none" stroke="#000" stroke-width="1.12" stroke-linejoin="round" stroke-linecap="round"/>
<path d="M78.7,315.6 L91.4,311.9 L93.7,304.4 L131,288.7 L132.5,290.2 L124.3,312.7 L115.4,317.1 L102,318 L87,331 L79.5,334.3 Z" fill="#fff" stroke="#000" stroke-width="1.62" stroke-linejoin="round" />
<path d="M95.9,307.4 L132,290.5" fill="none" stroke="#000" stroke-width="1.38" stroke-linejoin="round" stroke-linecap="round"/>
<path d="M78.7,315.6 L91.4,311.9" fill="none" stroke="#000" stroke-width="2.75" stroke-linejoin="round" stroke-linecap="round"/>
<path d="M80,317 L88,314.5 L82,330 Z" fill="#555" stroke="none"/>
<path d="M94,307 L80,333" fill="none" stroke="#000" stroke-width="1.25" stroke-linejoin="round" stroke-linecap="round"/>
<path d="M102,306 L102,304" fill="none" stroke="#000" stroke-width="1.00" stroke-linejoin="round" stroke-linecap="round"/>
<text x="93.5" y="298.70" font-size="9.1" text-anchor="middle" textLength="5.57" lengthAdjust="spacingAndGlyphs" stroke="#000" stroke-width="0.4">7</text>
<path d="M97,298 L104,301" fill="none" stroke="#000" stroke-width="1.12" stroke-linejoin="round" stroke-linecap="round"/>
<path d="M94.4,306.7 L102.7,305.2 L115.4,323.9 L116.1,346.3 L119.8,358.2 L116.9,362.7 L112,361 L89.2,337.3 L97.4,317.1 Z" fill="#fff" stroke="#000" stroke-width="1.62" stroke-linejoin="round" />
<path d="M100,307 L112,325 L112.5,346" fill="none" stroke="#000" stroke-width="1.25" stroke-linejoin="round" stroke-linecap="round"/>
<path d="M112.5,346 L116.1,346.3" fill="none" stroke="#000" stroke-width="1.25" stroke-linejoin="round" stroke-linecap="round"/>
<text x="99.7" y="338.30" font-size="9.1" text-anchor="middle" textLength="5.57" lengthAdjust="spacingAndGlyphs" stroke="#000" stroke-width="0.4">8</text>
<path d="M133.8,292.8 L140,289.3 L156.7,309.5 L156.7,340.3 L153.1,343.8 L128.5,318.3 Z" fill="#fff" stroke="#000" stroke-width="1.88" stroke-linejoin="round" />
<path d="M137.3,298 L151.4,310.4 L152.3,326.2 L132,317.5 Z" fill="#fff" stroke="#000" stroke-width="1.50" stroke-linejoin="round" />
<path d="M136,293.5 L131,317.5" fill="none" stroke="#000" stroke-width="1.25" stroke-linejoin="round" stroke-linecap="round"/>
<path d="M141,292 L154,309 L154,326" fill="none" stroke="#000" stroke-width="1.25" stroke-linejoin="round" stroke-linecap="round"/>
<circle cx="137.5" cy="293.5" r="2.2" fill="#fff" stroke="#000" stroke-width="1.2"/>
<path d="M128.5,318.3 L131,318 L153,339.5 L153.1,343.8 Z" fill="#333" stroke="none"/>
<path d="M152,326.5 L156.5,326" fill="none" stroke="#000" stroke-width="1.25" stroke-linejoin="round" stroke-linecap="round"/>
<text x="143" y="319.60" font-size="9.1" text-anchor="middle" textLength="5.57" lengthAdjust="spacingAndGlyphs" stroke="#000" stroke-width="0.4">9</text>
<path d="M290,244.9 L300.4,239.6 L342.2,224 L349.7,221 L364.6,217.2 L367.6,219.5 L368.5,312.5 L308.5,344 L302.5,340 L302,326 L292,318 L290,300 L289,280 Z" fill="#fff" stroke="#000" stroke-width="2.00" stroke-linejoin="round" />
<path d="M291.5,247 L301.2,242.6 L342.2,226.9 L363.1,220.2 L366,222" fill="none" stroke="#000" stroke-width="1.25" stroke-linejoin="round" stroke-linecap="round"/>
<path d="M301.2,247.1 L358.7,225.4 L360.9,283.7 L305.5,311 Z" fill="#fff" stroke="#000" stroke-width="1.75" stroke-linejoin="round" />
<path d="M304.9,250.1 L358.5,229.5" fill="none" stroke="#000" stroke-width="1.25" stroke-linejoin="round" stroke-linecap="round"/>
<path d="M362.5,224 L365.5,222.5 L366.5,291 L363.5,289 Z" fill="#888" stroke="none"/>
<path d="M362.5,224 L363.5,289" fill="none" stroke="#000" stroke-width="1.50" stroke-linejoin="round" stroke-linecap="round"/>
<path d="M365.5,222 L366.5,292" fill="none" stroke="#000" stroke-width="1.12" stroke-linejoin="round" stroke-linecap="round"/>
<path d="M295,249 L297,318 L304,326" fill="none" stroke="#000" stroke-width="1.25" stroke-linejoin="round" stroke-linecap="round"/>
<path d="M307.9,249.3 L351.9,234.4 L355.7,282.2 L309,303 Z" fill="#fff" stroke="#000" stroke-width="1.50" stroke-linejoin="round" />
<path d="M309,252 L352,237.5" fill="none" stroke="#000" stroke-width="1.25" stroke-linejoin="round" stroke-linecap="round"/>
<path d="M307.5,262 L325,256 L325.5,259 L308,265 Z" fill="#fff" stroke="#000" stroke-width="1.38" stroke-linejoin="round" />
<path d="M307.5,269 L325,263 L325.5,266 L308,272 Z" fill="#fff" stroke="#000" stroke-width="1.38" stroke-linejoin="round" />
<path d="M307.5,276 L325,269 L325.5,272 L308,279 Z" fill="#fff" stroke="#000" stroke-width="1.38" stroke-linejoin="round" />
<path d="M307.5,284 L325,277 L325.5,280 L308,287 Z" fill="#fff" stroke="#000" stroke-width="1.38" stroke-linejoin="round" />
<path d="M307.5,292 L325,285 L325.5,288 L308,295 Z" fill="#fff" stroke="#000" stroke-width="1.38" stroke-linejoin="round" />
<path d="M316,250 L317.5,296" fill="none" stroke="#000" stroke-width="1.62" stroke-linejoin="round" stroke-linecap="round"/>
<path d="M313,251 L318,249 L318,257 L313,259 Z" fill="#333" stroke="none"/>
<path d="M322,268 L327,266 L328,271 L323,273 Z" fill="#fff" stroke="#000" stroke-width="1.25" stroke-linejoin="round" />
<path d="M353,268 L350,272 L352,278 L355,279" fill="none" stroke="#000" stroke-width="1.25" stroke-linejoin="round" stroke-linecap="round"/>
<circle cx="352.5" cy="276" r="1.6" fill="#fff" stroke="#000" stroke-width="1"/>
<path d="M302.5,316 L308.5,309.5 L354,289.8 L368.8,288 L368.8,310.8 L311,344 L308.5,339 L307.3,326.8 Z" fill="#fff" stroke="#000" stroke-width="1.75" stroke-linejoin="round" />
<path d="M309.5,313 L355,293" fill="none" stroke="#000" stroke-width="1.25" stroke-linejoin="round" stroke-linecap="round"/>
<path d="M320.8,306 L320.8,321" fill="none" stroke="#000" stroke-width="1.62" stroke-linejoin="round" stroke-linecap="round"/>
<path d="M323.9,305 L323.9,320" fill="none" stroke="#000" stroke-width="1.25" stroke-linejoin="round" stroke-linecap="round"/>
<path d="M348,295 L348,305" fill="none" stroke="#000" stroke-width="1.62" stroke-linejoin="round" stroke-linecap="round"/>
<path d="M351,294 L351,303.5" fill="none" stroke="#000" stroke-width="1.25" stroke-linejoin="round" stroke-linecap="round"/>
<path d="M313.5,323 L357.8,302.2 L362,304.6 L362,317 L318.4,339 L313.5,337.8 Z" fill="#fff" stroke="#000" stroke-width="1.88" stroke-linejoin="round" />
<path d="M319.6,325.5 L357.8,306.5 L359.6,315.7 L319.6,335.4 Z" fill="#fff" stroke="#000" stroke-width="1.50" stroke-linejoin="round" />
<path d="M328.2,329.2 L359,314" fill="none" stroke="#000" stroke-width="2.75" stroke-linejoin="round" stroke-linecap="round"/>
<circle cx="335.6" cy="331.7" r="2.6" fill="#fff" stroke="#000" stroke-width="1.4"/>
<circle cx="329" cy="329" r="2.6" fill="#fff" stroke="#000" stroke-width="1.4"/>
<path d="M310,343 L310,349" fill="none" stroke="#000" stroke-width="1.25" stroke-linejoin="round" stroke-linecap="round"/>
<path d="M358.75,247.5 L375,238" fill="none" stroke="#000" stroke-width="1.25" stroke-linejoin="round" stroke-linecap="round"/>
<text x="379" y="236.95" font-size="9.1" text-anchor="middle" textLength="11.13" lengthAdjust="spacingAndGlyphs" stroke="#000" stroke-width="0.4">64</text>
<path d="M320,255 L325,255" fill="none" stroke="#000" stroke-width="1.12" stroke-linejoin="round" stroke-linecap="round"/>
<text x="331" y="257.95" font-size="9.1" text-anchor="middle" textLength="11.13" lengthAdjust="spacingAndGlyphs" stroke="#000" stroke-width="0.4">24</text>
<path d="M318,287 L329,287" fill="none" stroke="#000" stroke-width="1.12" stroke-linejoin="round" stroke-linecap="round"/>
<text x="334" y="289.45" font-size="9.1" text-anchor="middle" textLength="11.13" lengthAdjust="spacingAndGlyphs" stroke="#000" stroke-width="0.4">25</text>
<path d="M335,334 L340,338" fill="none" stroke="#000" stroke-width="1.12" stroke-linejoin="round" stroke-linecap="round"/>
<text x="346" y="345.70" font-size="9.1" text-anchor="middle" textLength="11.13" lengthAdjust="spacingAndGlyphs" stroke="#000" stroke-width="0.4">54</text>
<path d="M273,263 L279,261 L283,264 L290,263 L290.5,272 L284,274 L283,284 L279,285 L278,272 L274,269 Z" fill="#fff" stroke="#000" stroke-width="1.62" stroke-linejoin="round" />
<path d="M280,266 L283,265 L283,280 L280,281 Z" fill="#333" stroke="none"/>
<text x="276" y="260.70" font-size="9.1" text-anchor="middle" textLength="11.13" lengthAdjust="spacingAndGlyphs" stroke="#000" stroke-width="0.4">35</text>
<path d="M280,288 L286,285 L291,286 L291,300 L296,299 L297,316 L290,318 L287,309 L282,308 L280,300 Z" fill="#fff" stroke="#000" stroke-width="1.62" stroke-linejoin="round" />
<path d="M283,291 L287,289 L287,304 L283,305 Z" fill="#444" stroke="none"/>
<circle cx="293" cy="309" r="2.2" fill="#fff" stroke="#000" stroke-width="1.1"/>
<path d="M371.75,256.5 L376,258.5 L380.5,258.75 L383,254" fill="none" stroke="#000" stroke-width="2.25" stroke-linejoin="round" stroke-linecap="round"/>
<circle cx="372.5" cy="256.5" r="1.5" fill="#000" stroke="#000" stroke-width="0"/>
<path d="M380,256 L383,252" fill="none" stroke="#000" stroke-width="1.12" stroke-linejoin="round" stroke-linecap="round"/>
<text x="383.5" y="251.95" font-size="9.1" text-anchor="middle" textLength="11.13" lengthAdjust="spacingAndGlyphs" stroke="#000" stroke-width="0.4">43</text>
<path d="M398,270 L410.5,263.75" fill="none" stroke="#000" stroke-width="1.75" stroke-linejoin="round" stroke-linecap="round"/>
<path d="M399,273 L411,266.5" fill="none" stroke="#000" stroke-width="1.75" stroke-linejoin="round" stroke-linecap="round"/>
<path d="M399,270 L400,273" fill="none" stroke="#000" stroke-width="1.38" stroke-linejoin="round" stroke-linecap="round"/>
<path d="M402.2,268.4 L403.2,271.4" fill="none" stroke="#000" stroke-width="1.38" stroke-linejoin="round" stroke-linecap="round"/>
<path d="M405.4,266.8 L406.4,269.8" fill="none" stroke="#000" stroke-width="1.38" stroke-linejoin="round" stroke-linecap="round"/>
<path d="M408.6,265.2 L409.6,268.2" fill="none" stroke="#000" stroke-width="1.38" stroke-linejoin="round" stroke-linecap="round"/>
<path d="M410.5,264 L411,261" fill="none" stroke="#000" stroke-width="1.25" stroke-linejoin="round" stroke-linecap="round"/>
<path d="M406,264 L410,260" fill="none" stroke="#000" stroke-width="1.12" stroke-linejoin="round" stroke-linecap="round"/>
<text x="411.75" y="259.45" font-size="9.1" text-anchor="middle" textLength="11.13" lengthAdjust="spacingAndGlyphs" stroke="#000" stroke-width="0.4">38</text>
<path d="M374,297 L378,296.5 L378,302 L382,301.5 L383,306 L375,306.5 Q372,303 374,297 Z" fill="#fff" stroke="#000" stroke-width="1.88" stroke-linejoin="round" />
<path d="M376,299 L376.5,304" fill="none" stroke="#000" stroke-width="1.25" stroke-linejoin="round" stroke-linecap="round"/>
<path d="M376,296 L379,283" fill="none" stroke="#000" stroke-width="1.12" stroke-linejoin="round" stroke-linecap="round"/>
<text x="379.75" y="280.45" font-size="9.1" text-anchor="middle" textLength="11.13" lengthAdjust="spacingAndGlyphs" stroke="#000" stroke-width="0.4">54</text>
<path d="M455.5,113.75 L531.5,88.4 L544.2,90.5 L544.2,93.7 L469.3,120 L456.6,116.9 Z" fill="#fff" stroke="#000" stroke-width="1.75" stroke-linejoin="round" />
<path d="M455.5,113.75 L469.3,116.5 L544.2,90.5" fill="none" stroke="#000" stroke-width="1.50" stroke-linejoin="round" stroke-linecap="round"/>
<path d="M469.3,116.5 L469.3,120" fill="none" stroke="#000" stroke-width="1.25" stroke-linejoin="round" stroke-linecap="round"/>
<path d="M475,101.5 L487,98.8" fill="none" stroke="#000" stroke-width="1.25" stroke-linejoin="round" stroke-linecap="round"/>
<path d="M496,97 L524,89.5" fill="none" stroke="#000" stroke-width="1.25" stroke-linejoin="round" stroke-linecap="round"/>
<path d="M456.6,124.3 L471.4,126.4 L473.5,215 L458.6,209.2 Z" fill="#fff" stroke="#000" stroke-width="1.75" stroke-linejoin="round" />
<path d="M467,126 L469,214" fill="none" stroke="#000" stroke-width="1.25" stroke-linejoin="round" stroke-linecap="round"/>
<circle cx="461.9" cy="152.8" r="2.3" fill="#fff" stroke="#000" stroke-width="1.2"/>
<path d="M458,124 L458,121" fill="none" stroke="#000" stroke-width="1.25" stroke-linejoin="round" stroke-linecap="round"/>
<path d="M467,126 L467,122" fill="none" stroke="#000" stroke-width="1.25" stroke-linejoin="round" stroke-linecap="round"/>
<path d="M471.5,136 L474,135 L474.5,141 L472,141 Z" fill="#fff" stroke="#000" stroke-width="1.25" stroke-linejoin="round" />
<path d="M529.4,101.1 L537.8,99 L544.2,100 L546.3,179.2 L533.6,177 L530.4,172.8 Z" fill="#fff" stroke="#000" stroke-width="1.75" stroke-linejoin="round" />
<path d="M530.5,102 L539,100 L540,177 L532,173 Z" fill="#222" stroke="none"/>
<circle cx="533" cy="110" r="0.7" fill="#888" stroke="#000" stroke-width="0"/>
<circle cx="535" cy="125" r="0.7" fill="#888" stroke="#000" stroke-width="0"/>
<circle cx="534" cy="140" r="0.7" fill="#888" stroke="#000" stroke-width="0"/>
<circle cx="536" cy="150" r="0.7" fill="#888" stroke="#000" stroke-width="0"/>
<circle cx="533" cy="162" r="0.7" fill="#888" stroke="#000" stroke-width="0"/>
<circle cx="535" cy="168" r="0.7" fill="#888" stroke="#000" stroke-width="0"/>
<path d="M538.5,100 L540,178" fill="none" stroke="#000" stroke-width="1.50" stroke-linejoin="round" stroke-linecap="round"/>
<path d="M417.3,198.7 L485.8,170.5 L491,170.5 L497.3,166 L499,218 L494.6,225 L433.1,251.4 L427.8,259.6 L421.7,202.2 Z M428.7,202.2 L482.3,179.3 L492.9,220.6 L435.8,247.9 Z" fill="#fff" stroke="#000" stroke-width="1.88" stroke-linejoin="round" fill-rule="evenodd"/>
<path d="M419,203 L487.6,175.8" fill="none" stroke="#000" stroke-width="1.38" stroke-linejoin="round" stroke-linecap="round"/>
<path d="M428.7,202.2 L482.3,179.3 L492.9,220.6 L435.8,247.9 Z" fill="none" stroke="#000" stroke-width="1.75" stroke-linejoin="round" />
<path d="M423,204 L487,177 L494,222 L433,251 Z" fill="none" stroke="#000" stroke-width="1.25" stroke-linejoin="round" />
<path d="M423,204 L428.7,202.2 L435.8,247.9 L431,250 Z" fill="#777" stroke="none"/>
<path d="M482.3,179.3 L487,177 L495,222 L492.9,220.6 Z" fill="#777" stroke="none"/>
<path d="M433.1,254 L494.6,228" fill="none" stroke="#000" stroke-width="1.25" stroke-linejoin="round" stroke-linecap="round"/>
<path d="M489.5,178 L492.5,177 L493,185 L490,186 Z" fill="#fff" stroke="#000" stroke-width="1.12" stroke-linejoin="round" />
<path d="M489.5,191 L492.5,190 L493,199 L490,200 Z" fill="#fff" stroke="#000" stroke-width="1.12" stroke-linejoin="round" />
<path d="M489.5,205 L492.5,204 L493,211 L490,212 Z" fill="#fff" stroke="#000" stroke-width="1.12" stroke-linejoin="round" />
<path d="M416,226 L420.5,225 L421,232 L416.5,233 Z" fill="#fff" stroke="#000" stroke-width="1.25" stroke-linejoin="round" />
<path d="M433,221.5 L441,221.5" fill="none" stroke="#000" stroke-width="1.12" stroke-linejoin="round" stroke-linecap="round"/>
<text x="447.2" y="224.70" font-size="9.1" text-anchor="middle" textLength="11.13" lengthAdjust="spacingAndGlyphs" stroke="#000" stroke-width="0.4">40</text>
<path d="M492.6,230.2 L496.6,229.5 L498.4,275.7 Q496,278 494,275.7 Z" fill="#666" stroke="#000" stroke-width="1.50" stroke-linejoin="round" />
<path d="M486,251.5 L493,251.5" fill="none" stroke="#000" stroke-width="1.12" stroke-linejoin="round" stroke-linecap="round"/>
<text x="482" y="254.70" font-size="9.1" text-anchor="middle" textLength="11.13" lengthAdjust="spacingAndGlyphs" stroke="#000" stroke-width="0.4">19</text>
<path d="M497.4,218.6 L554.4,196.4 L555.4,241.8 L499.3,268 Z" fill="#fff" stroke="#000" stroke-width="1.75" stroke-linejoin="round" />
<path d="M498.975,217.675 L500.837,266.908" fill="none" stroke="#000" stroke-width="1.38" stroke-linejoin="round" stroke-linecap="round"/>
<path d="M500.675,217.275 L502.537,266.508" fill="none" stroke="#000" stroke-width="1.00" stroke-linejoin="round" stroke-linecap="round"/>
<path d="M503.725,215.825 L505.512,264.725" fill="none" stroke="#000" stroke-width="1.38" stroke-linejoin="round" stroke-linecap="round"/>
<path d="M505.425,215.425 L507.212,264.325" fill="none" stroke="#000" stroke-width="1.00" stroke-linejoin="round" stroke-linecap="round"/>
<path d="M508.475,213.975 L510.188,262.542" fill="none" stroke="#000" stroke-width="1.38" stroke-linejoin="round" stroke-linecap="round"/>
<path d="M510.175,213.575 L511.887,262.142" fill="none" stroke="#000" stroke-width="1.00" stroke-linejoin="round" stroke-linecap="round"/>
<path d="M513.225,212.125 L514.863,260.358" fill="none" stroke="#000" stroke-width="1.38" stroke-linejoin="round" stroke-linecap="round"/>
<path d="M514.925,211.725 L516.562,259.958" fill="none" stroke="#000" stroke-width="1.00" stroke-linejoin="round" stroke-linecap="round"/>
<path d="M517.975,210.275 L519.538,258.175" fill="none" stroke="#000" stroke-width="1.38" stroke-linejoin="round" stroke-linecap="round"/>
<path d="M519.675,209.875 L521.237,257.775" fill="none" stroke="#000" stroke-width="1.00" stroke-linejoin="round" stroke-linecap="round"/>
<path d="M522.725,208.425 L524.213,255.992" fill="none" stroke="#000" stroke-width="1.38" stroke-linejoin="round" stroke-linecap="round"/>
<path d="M524.425,208.025 L525.913,255.592" fill="none" stroke="#000" stroke-width="1.00" stroke-linejoin="round" stroke-linecap="round"/>
<path d="M527.475,206.575 L528.888,253.808" fill="none" stroke="#000" stroke-width="1.38" stroke-linejoin="round" stroke-linecap="round"/>
<path d="M529.175,206.175 L530.587,253.408" fill="none" stroke="#000" stroke-width="1.00" stroke-linejoin="round" stroke-linecap="round"/>
<path d="M532.225,204.725 L533.562,251.625" fill="none" stroke="#000" stroke-width="1.38" stroke-linejoin="round" stroke-linecap="round"/>
<path d="M533.925,204.325 L535.262,251.225" fill="none" stroke="#000" stroke-width="1.00" stroke-linejoin="round" stroke-linecap="round"/>
<path d="M536.975,202.875 L538.238,249.442" fill="none" stroke="#000" stroke-width="1.38" stroke-linejoin="round" stroke-linecap="round"/>
<path d="M538.675,202.475 L539.938,249.042" fill="none" stroke="#000" stroke-width="1.00" stroke-linejoin="round" stroke-linecap="round"/>
<path d="M541.725,201.025 L542.913,247.258" fill="none" stroke="#000" stroke-width="1.38" stroke-linejoin="round" stroke-linecap="round"/>
<path d="M543.425,200.625 L544.612,246.858" fill="none" stroke="#000" stroke-width="1.00" stroke-linejoin="round" stroke-linecap="round"/>
<path d="M546.475,199.175 L547.587,245.075" fill="none" stroke="#000" stroke-width="1.38" stroke-linejoin="round" stroke-linecap="round"/>
<path d="M548.175,198.775 L549.287,244.675" fill="none" stroke="#000" stroke-width="1.00" stroke-linejoin="round" stroke-linecap="round"/>
<path d="M551.225,197.325 L552.263,242.892" fill="none" stroke="#000" stroke-width="1.38" stroke-linejoin="round" stroke-linecap="round"/>
<path d="M552.925,196.925 L553.962,242.492" fill="none" stroke="#000" stroke-width="1.00" stroke-linejoin="round" stroke-linecap="round"/>
<path d="M502.2,211 L550.5,188.7 L551.5,191.5 L503,214 Z" fill="#fff" stroke="#000" stroke-width="1.50" stroke-linejoin="round" />
<path d="M510,204 L512,198" fill="none" stroke="#000" stroke-width="1.12" stroke-linejoin="round" stroke-linecap="round"/>
<text x="514.8" y="196.70" font-size="9.1" text-anchor="middle" textLength="11.13" lengthAdjust="spacingAndGlyphs" stroke="#000" stroke-width="0.4">18</text>
<path d="M522.5,221 L571.8,198.4 L572.8,202.4 L523.5,225 Q520,224 522.5,221 Z" fill="#fff" stroke="#000" stroke-width="1.62" stroke-linejoin="round" />
<circle cx="547" cy="211" r="0.8" fill="#000" stroke="#000" stroke-width="0"/>
<circle cx="567" cy="202" r="0.8" fill="#000" stroke="#000" stroke-width="0"/>
<path d="M560,188 L565,198" fill="none" stroke="#000" stroke-width="1.12" stroke-linejoin="round" stroke-linecap="round"/>
<text x="557.3" y="187.10" font-size="9.1" text-anchor="middle" textLength="11.13" lengthAdjust="spacingAndGlyphs" stroke="#000" stroke-width="0.4">35</text>
<path d="M529,232 L522,228" fill="none" stroke="#000" stroke-width="1.12" stroke-linejoin="round" stroke-linecap="round"/>
<text x="526.4" y="239.20" font-size="9.1" text-anchor="middle" textLength="11.13" lengthAdjust="spacingAndGlyphs" stroke="#000" stroke-width="0.4">17</text>
<path d="M557.3,209 L560,208.5 L560.2,236 L557.3,236.5 Z" fill="#888" stroke="#000" stroke-width="1.38" stroke-linejoin="round" />
<path d="M561,236 L569,241" fill="none" stroke="#000" stroke-width="1.12" stroke-linejoin="round" stroke-linecap="round"/>
<text x="573.7" y="248.90" font-size="9.1" text-anchor="middle" textLength="11.13" lengthAdjust="spacingAndGlyphs" stroke="#000" stroke-width="0.4">19</text>
<path d="M500.3,268.9 L554.4,243.8 L555,246.8 L501,272 Z" fill="#fff" stroke="#000" stroke-width="1.50" stroke-linejoin="round" />
<path d="M503,274 L500,279" fill="none" stroke="#000" stroke-width="1.12" stroke-linejoin="round" stroke-linecap="round"/>
<text x="500.9" y="287.50" font-size="9.1" text-anchor="middle" textLength="11.13" lengthAdjust="spacingAndGlyphs" stroke="#000" stroke-width="0.4">18</text>
<path d="M511.9,273.7 L561.2,246.7 L562,251.7 L513,279 Q510,277 511.9,273.7 Z" fill="#fff" stroke="#000" stroke-width="1.62" stroke-linejoin="round" />
<circle cx="517" cy="276" r="0.8" fill="#000" stroke="#000" stroke-width="0"/>
<circle cx="538" cy="264" r="0.8" fill="#000" stroke="#000" stroke-width="0"/>
<circle cx="558" cy="251" r="0.8" fill="#000" stroke="#000" stroke-width="0"/>
<path d="M545,259 L549,262" fill="none" stroke="#000" stroke-width="1.12" stroke-linejoin="round" stroke-linecap="round"/>
<text x="554.4" y="267.20" font-size="9.1" text-anchor="middle" textLength="11.13" lengthAdjust="spacingAndGlyphs" stroke="#000" stroke-width="0.4">35</text>
<ellipse cx="579.5" cy="180.2" rx="15.2" ry="19" transform="rotate(-12 579.5 180.2)" fill="#6a6a6a" stroke="#000" stroke-width="1.6"/>
<circle cx="577.2" cy="177.3" r="0.8" fill="#222" stroke="#000" stroke-width="0"/>
<circle cx="579.1" cy="187.9" r="2.0" fill="#222" stroke="#000" stroke-width="0"/>
<circle cx="570.2" cy="177.2" r="1.3" fill="#ccc" stroke="#000" stroke-width="0"/>
<circle cx="580.1" cy="186.4" r="1.9" fill="#222" stroke="#000" stroke-width="0"/>
<circle cx="578.9" cy="167.1" r="0.9" fill="#bbb" stroke="#000" stroke-width="0"/>
<circle cx="578.8" cy="182.9" r="1.8" fill="#222" stroke="#000" stroke-width="0"/>
<circle cx="569.2" cy="171.6" r="1.3" fill="#222" stroke="#000" stroke-width="0"/>
<circle cx="567.7" cy="185.5" r="1.9" fill="#bbb" stroke="#000" stroke-width="0"/>
<circle cx="588.4" cy="182.7" r="1.1" fill="#222" stroke="#000" stroke-width="0"/>
<circle cx="581.7" cy="165.6" r="1.3" fill="#222" stroke="#000" stroke-width="0"/>
<circle cx="571.0" cy="175.0" r="1.3" fill="#ccc" stroke="#000" stroke-width="0"/>
<circle cx="588.3" cy="172.7" r="1.9" fill="#333" stroke="#000" stroke-width="0"/>
<circle cx="590.1" cy="179.5" r="1.0" fill="#333" stroke="#000" stroke-width="0"/>
<circle cx="591.6" cy="176.8" r="1.5" fill="#ccc" stroke="#000" stroke-width="0"/>
<circle cx="570.8" cy="168.4" r="1.1" fill="#bbb" stroke="#000" stroke-width="0"/>
<circle cx="590.6" cy="185.9" r="2.0" fill="#bbb" stroke="#000" stroke-width="0"/>
<circle cx="577.6" cy="183.6" r="1.9" fill="#bbb" stroke="#000" stroke-width="0"/>
<circle cx="581.4" cy="177.8" r="1.5" fill="#bbb" stroke="#000" stroke-width="0"/>
<circle cx="567.6" cy="175.4" r="1.1" fill="#ccc" stroke="#000" stroke-width="0"/>
<circle cx="586.7" cy="180.1" r="0.9" fill="#bbb" stroke="#000" stroke-width="0"/>
<circle cx="591.7" cy="175.2" r="1.1" fill="#333" stroke="#000" stroke-width="0"/>
<circle cx="581.0" cy="182.9" r="1.8" fill="#333" stroke="#000" stroke-width="0"/>
<circle cx="576.4" cy="184.8" r="1.8" fill="#222" stroke="#000" stroke-width="0"/>
<circle cx="570.4" cy="183.0" r="1.6" fill="#bbb" stroke="#000" stroke-width="0"/>
<circle cx="570.3" cy="169.6" r="1.4" fill="#222" stroke="#000" stroke-width="0"/>
<circle cx="572.2" cy="170.1" r="1.9" fill="#222" stroke="#000" stroke-width="0"/>
<circle cx="588.8" cy="178.6" r="1.5" fill="#bbb" stroke="#000" stroke-width="0"/>
<circle cx="582.6" cy="164.8" r="1.2" fill="#222" stroke="#000" stroke-width="0"/>
<circle cx="571.8" cy="171.7" r="0.9" fill="#333" stroke="#000" stroke-width="0"/>
<circle cx="569.0" cy="183.0" r="1.2" fill="#333" stroke="#000" stroke-width="0"/>
<circle cx="579.4" cy="177.8" r="0.9" fill="#bbb" stroke="#000" stroke-width="0"/>
<circle cx="585.8" cy="178.4" r="1.3" fill="#333" stroke="#000" stroke-width="0"/>
<circle cx="582.0" cy="186.4" r="1.7" fill="#333" stroke="#000" stroke-width="0"/>
<circle cx="579.8" cy="177.6" r="1.5" fill="#ccc" stroke="#000" stroke-width="0"/>
<path d="M566,189 Q575,197 590,196 L593,190 L567,186 Z" fill="#fff" stroke="none"/>
<ellipse cx="583" cy="191" rx="4" ry="4.5" transform="rotate(-20 583 191)" fill="#fff" stroke="#000" stroke-width="1.50"/>
<ellipse cx="579.5" cy="180.2" rx="15.2" ry="19" transform="rotate(-12 579.5 180.2)" fill="none" stroke="#000" stroke-width="1.6"/>
<path d="M572,158 L575,163" fill="none" stroke="#000" stroke-width="1.12" stroke-linejoin="round" stroke-linecap="round"/>
<text x="572.5" y="155.20" font-size="9.1" text-anchor="middle" textLength="11.13" lengthAdjust="spacingAndGlyphs" stroke="#000" stroke-width="0.4">70</text>
<ellipse cx="583.6" cy="219" rx="16.6" ry="19" transform="rotate(-12 583.6 219)" fill="#262626" stroke="#000" stroke-width="1.4"/>
<circle cx="576" cy="208" r="1.1" fill="#777" stroke="#000" stroke-width="0"/>
<circle cx="590" cy="225" r="1.1" fill="#777" stroke="#000" stroke-width="0"/>
<circle cx="580" cy="230" r="1.1" fill="#777" stroke="#000" stroke-width="0"/>
<circle cx="595" cy="212" r="1.1" fill="#777" stroke="#000" stroke-width="0"/>
<circle cx="586" cy="204" r="1.1" fill="#777" stroke="#000" stroke-width="0"/>
<circle cx="572" cy="224" r="1.1" fill="#777" stroke="#000" stroke-width="0"/>
<path d="M569.8,214 L580.9,213.9 L580.9,219.4 L569.8,219.4 Z" fill="#fff" stroke="#000" stroke-width="0.00" stroke-linejoin="round" />
<ellipse cx="587" cy="213.6" rx="3.6" ry="4.8" transform="rotate(30 587 213.6)" fill="#fff" stroke="#000" stroke-width="0.00"/>
<path d="M597,232 L603,236" fill="none" stroke="#000" stroke-width="1.12" stroke-linejoin="round" stroke-linecap="round"/>
<text x="608.6" y="241.10" font-size="9.1" text-anchor="middle" textLength="11.13" lengthAdjust="spacingAndGlyphs" stroke="#000" stroke-width="0.4">70</text>
<path d="M669,137 L724.7,119.3 L727.9,211 L672.5,201 Z" fill="#fff" stroke="#000" stroke-width="1.75" stroke-linejoin="round" />
<path d="M672,140 L719,124 L721,204 L674,192 Z" fill="#0a0a0a" stroke="none"/>
<path d="M672,140 L684,137 L678,149 Z" fill="#fff" stroke="none"/>
<ellipse cx="696.3" cy="140.5" rx="4" ry="4.5" transform="rotate(0 696.3 140.5)" fill="#fff" stroke="#000" stroke-width="0.00"/>
<ellipse cx="683.6" cy="158.9" rx="4" ry="4.5" transform="rotate(0 683.6 158.9)" fill="#fff" stroke="#000" stroke-width="0.00"/>
<ellipse cx="697.8" cy="163.6" rx="3.8" ry="4.5" transform="rotate(0 697.8 163.6)" fill="#fff" stroke="#000" stroke-width="0.00"/>
<path d="M679,176 Q688,171 696,176 L695,183 Q686,186 679,181 Z" fill="#fff" stroke="#000" stroke-width="0.00" stroke-linejoin="round" />
<path d="M719,124 L721,204" fill="none" stroke="#000" stroke-width="1.25" stroke-linejoin="round" stroke-linecap="round"/>
<path d="M717,131 L723,129 L723,136 L717,138 Z" fill="#fff" stroke="#000" stroke-width="1.25" stroke-linejoin="round" />
<path d="M717,183 L723,181 L723,189 L717,191 Z" fill="#fff" stroke="#000" stroke-width="1.25" stroke-linejoin="round" />
<path d="M674,192 L721,204" fill="none" stroke="#000" stroke-width="1.38" stroke-linejoin="round" stroke-linecap="round"/>
<path d="M598.2,132 L667.8,149.4 L669.4,250.6 L600.3,223 Z" fill="#fff" stroke="#000" stroke-width="1.88" stroke-linejoin="round" />
<path d="M600,137 L667,153" fill="none" stroke="#000" stroke-width="1.38" stroke-linejoin="round" stroke-linecap="round"/>
<path d="M663,150 L664,249" fill="none" stroke="#000" stroke-width="1.25" stroke-linejoin="round" stroke-linecap="round"/>
<ellipse cx="607.7" cy="148" rx="3.8" ry="4.7" transform="rotate(0 607.7 148)" fill="#fff" stroke="#000" stroke-width="1.62"/>
<path d="M603,162 L609,160 L616,174 L613,178 L604,171 Z" fill="#fff" stroke="#000" stroke-width="1.62" stroke-linejoin="round" />
<ellipse cx="626.6" cy="177.8" rx="4" ry="4.5" transform="rotate(0 626.6 177.8)" fill="#fff" stroke="#000" stroke-width="1.62"/>
<ellipse cx="614" cy="193.7" rx="3.8" ry="4.3" transform="rotate(0 614 193.7)" fill="#fff" stroke="#000" stroke-width="1.62"/>
<ellipse cx="628.2" cy="198.4" rx="4" ry="4.5" transform="rotate(0 628.2 198.4)" fill="#fff" stroke="#000" stroke-width="1.62"/>
<ellipse cx="617" cy="214.5" rx="9" ry="5.5" transform="rotate(10 617 214.5)" fill="#fff" stroke="#000" stroke-width="1.62"/>
<circle cx="617" cy="163" r="0.9" fill="#000" stroke="#000" stroke-width="0"/>
<circle cx="620.6" cy="201" r="0.9" fill="#000" stroke="#000" stroke-width="0"/>
<path d="M639.3,154 L643.5,155 L647.2,243 L643,242 Z" fill="#222" stroke="#000" stroke-width="1.25" stroke-linejoin="round" />
<path d="M641,170 L642.5,176" fill="none" stroke="#fff" stroke-width="1.00" stroke-linejoin="round" stroke-linecap="round"/>
<path d="M643,190 L644.5,196" fill="none" stroke="#fff" stroke-width="1.00" stroke-linejoin="round" stroke-linecap="round"/>
<path d="M644,215 L645.5,221" fill="none" stroke="#fff" stroke-width="1.00" stroke-linejoin="round" stroke-linecap="round"/>
<path d="M645,230 L646.5,236" fill="none" stroke="#fff" stroke-width="1.00" stroke-linejoin="round" stroke-linecap="round"/>
<path d="M649,157 L649,161" fill="none" stroke="#000" stroke-width="1.25" stroke-linejoin="round" stroke-linecap="round"/>
<path d="M650,196 L650,200" fill="none" stroke="#000" stroke-width="1.25" stroke-linejoin="round" stroke-linecap="round"/>
<path d="M651,234 L651,238" fill="none" stroke="#000" stroke-width="1.25" stroke-linejoin="round" stroke-linecap="round"/>
<path d="M598.2,122.5 L658.3,98.7 L727.9,109.8 L661.5,136.7 Z" fill="#fff" stroke="#000" stroke-width="1.75" stroke-linejoin="round" />
<path d="M598.2,122.5 L661.5,136.7 L661.5,141.5 L598.2,127.5 Z" fill="#fff" stroke="#000" stroke-width="1.62" stroke-linejoin="round" />
<path d="M661.5,136.7 L727.9,109.8 L727.9,114.5 L661.5,141.5 Z" fill="#fff" stroke="#000" stroke-width="1.62" stroke-linejoin="round" />
<ellipse cx="656.7" cy="114.6" rx="14.2" ry="6.3" transform="rotate(0 656.7 114.6)" fill="#fff" stroke="#000" stroke-width="1.88"/>
<path d="M666,114 L670,112 L671,116 L667,117 Z" fill="#fff" stroke="#000" stroke-width="1.25" stroke-linejoin="round" />
<path d="M637.7,101.9 L707.3,81.3 L709,83 L709,86 L639,106.5 L637.7,106 Z" fill="#fff" stroke="#000" stroke-width="1.75" stroke-linejoin="round" />
<path d="M640,104 L708,84" fill="none" stroke="#000" stroke-width="1.25" stroke-linejoin="round" stroke-linecap="round"/>
<circle cx="680" cy="92" r="0.8" fill="#000" stroke="#000" stroke-width="0"/>
<circle cx="695" cy="87" r="0.8" fill="#000" stroke="#000" stroke-width="0"/>
<path d="M704,101 L707,97 L710,99 L713,97" fill="none" stroke="#000" stroke-width="1.62" stroke-linejoin="round" stroke-linecap="round"/>
<path d="M712,97 L715,94" fill="none" stroke="#000" stroke-width="1.00" stroke-linejoin="round" stroke-linecap="round"/>
<text x="718.4" y="94.00" font-size="9.1" text-anchor="middle" textLength="11.13" lengthAdjust="spacingAndGlyphs" stroke="#000" stroke-width="0.4">51</text>
<text x="590" y="133.20" font-size="9.1" text-anchor="middle" textLength="11.13" lengthAdjust="spacingAndGlyphs" stroke="#000" stroke-width="0.4">50</text>
<path d="M595,131 L600,133" fill="none" stroke="#000" stroke-width="1.12" stroke-linejoin="round" stroke-linecap="round"/>
<path d="M733.5,112 L738,111.5 L741,187.5 L736.5,188 Z" fill="#222" stroke="#000" stroke-width="1.50" stroke-linejoin="round" />
<path d="M736,125 L737,128" fill="none" stroke="#ddd" stroke-width="1.00" stroke-linejoin="round" stroke-linecap="round"/>
<path d="M736,140 L737,143" fill="none" stroke="#ddd" stroke-width="1.00" stroke-linejoin="round" stroke-linecap="round"/>
<path d="M736,155 L737,158" fill="none" stroke="#ddd" stroke-width="1.00" stroke-linejoin="round" stroke-linecap="round"/>
<path d="M736,170 L737,173" fill="none" stroke="#ddd" stroke-width="1.00" stroke-linejoin="round" stroke-linecap="round"/>
<path d="M666,214 L670,211 L690,216 L692,221 L688,224 L676,219 L671,226" fill="none" stroke="#000" stroke-width="2.00" stroke-linejoin="round" stroke-linecap="round"/>
<path d="M623.5,246 L627,238 L631,239 L630,247 L634.6,249 L633,253 L624,253 Z" fill="#fff" stroke="#000" stroke-width="1.62" stroke-linejoin="round" />
<path d="M611,237 L619,238" fill="none" stroke="#000" stroke-width="1.12" stroke-linejoin="round" stroke-linecap="round"/>
<ellipse cx="753.7" cy="102" rx="13.6" ry="17" transform="rotate(-18 753.7 102)" fill="#0a0a0a" stroke="#000" stroke-width="1"/>
<ellipse cx="757" cy="109" rx="1.8" ry="4" transform="rotate(-25 757 109)" fill="#fff" stroke="#000" stroke-width="0.00"/>
<circle cx="753" cy="103" r="0.9" fill="#fff" stroke="#000" stroke-width="0"/>
<path d="M744,84 L748,88" fill="none" stroke="#000" stroke-width="1.12" stroke-linejoin="round" stroke-linecap="round"/>
<text x="740" y="82.20" font-size="9.1" text-anchor="middle" textLength="11.13" lengthAdjust="spacingAndGlyphs" stroke="#000" stroke-width="0.4">70</text>
<ellipse cx="758" cy="139.5" rx="13.7" ry="16.8" transform="rotate(-18 758 139.5)" fill="#0a0a0a" stroke="#000" stroke-width="1"/>
<ellipse cx="760" cy="131" rx="1.8" ry="4" transform="rotate(20 760 131)" fill="#fff" stroke="#000" stroke-width="0.00"/>
<circle cx="757" cy="140" r="0.9" fill="#fff" stroke="#000" stroke-width="0"/>
<path d="M752,155 L756,152" fill="none" stroke="#000" stroke-width="1.12" stroke-linejoin="round" stroke-linecap="round"/>
<text x="749" y="164.20" font-size="9.1" text-anchor="middle" textLength="11.13" lengthAdjust="spacingAndGlyphs" stroke="#000" stroke-width="0.4">70</text>
<path d="M450.75,254.75 L460.5,251 L462,315.5 L454.5,317 Z" fill="#fff" stroke="#000" stroke-width="1.75" stroke-linejoin="round" />
<path d="M456,266 h2.5 v9 h-2.5 Z" fill="#fff" stroke="#000" stroke-width="1.25" stroke-linejoin="round" />
<path d="M457,292 h2.5 v9 h-2.5 Z" fill="#fff" stroke="#000" stroke-width="1.25" stroke-linejoin="round" />
<path d="M449,280 L456,278" fill="none" stroke="#000" stroke-width="1.25" stroke-linejoin="round" stroke-linecap="round"/>
<path d="M448,278 L465,273" fill="none" stroke="#000" stroke-width="1.12" stroke-linejoin="round" stroke-linecap="round"/>
<text x="468.75" y="275.95" font-size="9.1" text-anchor="middle" textLength="11.13" lengthAdjust="spacingAndGlyphs" stroke="#000" stroke-width="0.4">13</text>
<path d="M459,306 L469,305 L469,300" fill="none" stroke="#000" stroke-width="1.25" stroke-linejoin="round" stroke-linecap="round"/>
<text x="469.5" y="299.95" font-size="9.1" text-anchor="middle" textLength="11.13" lengthAdjust="spacingAndGlyphs" stroke="#000" stroke-width="0.4">39</text>
<path d="M383.25,290 L450,254.75 L452,258.5 L454,317 L394,350 L389.5,350 L385,351.5 L383,348 L387.75,293 Z" fill="#fff" stroke="#000" stroke-width="1.88" stroke-linejoin="round" />
<path d="M389,293 L390,349" fill="none" stroke="#000" stroke-width="1.38" stroke-linejoin="round" stroke-linecap="round"/>
<path d="M397,291 L397,333.5" fill="none" stroke="#000" stroke-width="1.38" stroke-linejoin="round" stroke-linecap="round"/>
<path d="M401.554,289.043 L403.62,332.228" fill="none" stroke="#000" stroke-width="1.75" stroke-linejoin="round" stroke-linecap="round"/>
<path d="M407.478,285.783 L409.652,330.109" fill="none" stroke="#000" stroke-width="1.75" stroke-linejoin="round" stroke-linecap="round"/>
<path d="M413.402,282.522 L415.685,327.989" fill="none" stroke="#000" stroke-width="1.75" stroke-linejoin="round" stroke-linecap="round"/>
<path d="M419.326,279.261 L421.717,325.87" fill="none" stroke="#000" stroke-width="1.75" stroke-linejoin="round" stroke-linecap="round"/>
<path d="M425.25,276 L427.75,323.75" fill="none" stroke="#000" stroke-width="1.75" stroke-linejoin="round" stroke-linecap="round"/>
<path d="M431.174,272.739 L433.783,321.63" fill="none" stroke="#000" stroke-width="1.75" stroke-linejoin="round" stroke-linecap="round"/>
<path d="M437.098,269.478 L439.815,319.511" fill="none" stroke="#000" stroke-width="1.75" stroke-linejoin="round" stroke-linecap="round"/>
<path d="M443.022,266.217 L445.848,317.391" fill="none" stroke="#000" stroke-width="1.75" stroke-linejoin="round" stroke-linecap="round"/>
<path d="M448.946,262.957 L451.88,315.272" fill="none" stroke="#000" stroke-width="1.75" stroke-linejoin="round" stroke-linecap="round"/>
<path d="M397,333.5 L452.5,314" fill="none" stroke="#000" stroke-width="1.62" stroke-linejoin="round" stroke-linecap="round"/>
<path d="M394,340 L454,318" fill="none" stroke="#000" stroke-width="1.50" stroke-linejoin="round" stroke-linecap="round"/>
<path d="M382,289.5 L449,252.5 L452,255 L452.5,261 L398,291 L386,294.5 Z" fill="#fff" stroke="#000" stroke-width="1.75" stroke-linejoin="round" />
<path d="M396.5,287 L451,259" fill="none" stroke="#000" stroke-width="1.38" stroke-linejoin="round" stroke-linecap="round"/>
<path d="M385,291 L449,255.5" fill="none" stroke="#000" stroke-width="1.12" stroke-linejoin="round" stroke-linecap="round"/>
<circle cx="384.5" cy="291.5" r="1.8" fill="#000" stroke="#000" stroke-width="0"/>
<circle cx="401" cy="286" r="1.1" fill="#000" stroke="#000" stroke-width="0"/>
<circle cx="423" cy="274" r="1.1" fill="#000" stroke="#000" stroke-width="0"/>
<circle cx="441" cy="264" r="1.1" fill="#000" stroke="#000" stroke-width="0"/>
<path d="M383.5,317 L387.25,316 L387.25,327.5 L383.5,328.5 Z" fill="#fff" stroke="#000" stroke-width="1.25" stroke-linejoin="round" />
<path d="M418,301 L421,296" fill="none" stroke="#000" stroke-width="1.00" stroke-linejoin="round" stroke-linecap="round"/>
<text x="420" y="302.20" font-size="9.1" text-anchor="middle" textLength="11.13" lengthAdjust="spacingAndGlyphs" stroke="#000" stroke-width="0.4">17</text>
<path d="M402,327 L405,323" fill="none" stroke="#000" stroke-width="1.12" stroke-linejoin="round" stroke-linecap="round"/>
<text x="405.75" y="323.95" font-size="9.1" text-anchor="middle" textLength="11.13" lengthAdjust="spacingAndGlyphs" stroke="#000" stroke-width="0.4">12</text>
<path d="M404,340 L484,305 L486,307 L406,343 Z" fill="#fff" stroke="#000" stroke-width="1.62" stroke-linejoin="round" />
<path d="M376,368 L397,356.75 L427,343.25 L428.5,346 L427.75,356.75 L377.5,389 L374,386 Z" fill="#fff" stroke="#000" stroke-width="1.88" stroke-linejoin="round" />
<path d="M378,371 L427,348" fill="none" stroke="#000" stroke-width="1.25" stroke-linejoin="round" stroke-linecap="round"/>
<path d="M404.5,355.5 L409.75,353.5 L409.75,360 L404.5,362 Z" fill="#fff" stroke="#000" stroke-width="1.50" stroke-linejoin="round" />
<circle cx="406.5" cy="367" r="0.9" fill="#000" stroke="#000" stroke-width="0"/>
<circle cx="408" cy="372" r="1.2" fill="#fff" stroke="#000" stroke-width="1"/>
<path d="M376,375 L378,378" fill="none" stroke="#000" stroke-width="1.12" stroke-linejoin="round" stroke-linecap="round"/>
<text x="391.75" y="377.95" font-size="9.1" text-anchor="middle" textLength="11.13" lengthAdjust="spacingAndGlyphs" stroke="#000" stroke-width="0.4">58</text>
<path d="M392.5,431 L432.5,407.5 L459,405 L459,415 L396,459 Z" fill="#fff" stroke="#000" stroke-width="1.88" stroke-linejoin="round" />
<path d="M392.5,431 L396,435 L459,405" fill="none" stroke="#000" stroke-width="1.62" stroke-linejoin="round" stroke-linecap="round"/>
<path d="M396,435 L396,459" fill="none" stroke="#000" stroke-width="1.50" stroke-linejoin="round" stroke-linecap="round"/>
<circle cx="450" cy="412" r="0.8" fill="#000" stroke="#000" stroke-width="0"/>
<text x="424" y="430.70" font-size="9.1" text-anchor="middle" textLength="11.13" lengthAdjust="spacingAndGlyphs" stroke="#000" stroke-width="0.4">68</text>
<path d="M432.3,336.5 L506,289.8 L509.75,369.75 L438.4,412.8 L436,411.5 Z" fill="#fff" stroke="#000" stroke-width="1.88" stroke-linejoin="round" />
<path d="M434,340 L505,294" fill="none" stroke="#000" stroke-width="1.38" stroke-linejoin="round" stroke-linecap="round"/>
<path d="M440,341 L452,345" fill="none" stroke="#000" stroke-width="1.25" stroke-linejoin="round" stroke-linecap="round"/>
<path d="M436,342 L447,405.4 L509.75,369.75" fill="none" stroke="#000" stroke-width="1.25" stroke-linejoin="round" stroke-linecap="round"/>
<path d="M498,300 L506,293 L507,322 L499,319 Z" fill="#777" stroke="none"/>
<path d="M452.2,344 L497,319 Q490,335 494.9,346.4 Q497,354 501.2,357.5 L463.2,384.4 Q451,374 452,360 Q452.5,350 452.2,344 Z" fill="#fff" stroke="#000" stroke-width="1.62" stroke-linejoin="round" />
<path d="M452.2,344 L497,319" fill="none" stroke="#000" stroke-width="3.00" stroke-linejoin="round" stroke-linecap="round"/>
<path d="M445,352 L452.2,344 L453.5,349 L449,362 L446,360 Z" fill="#333" stroke="none"/>
<path d="M444.5,352 L452,351.5" fill="none" stroke="#000" stroke-width="1.12" stroke-linejoin="round" stroke-linecap="round"/>
<path d="M444.7,355.6 L452.35,355.1" fill="none" stroke="#000" stroke-width="1.12" stroke-linejoin="round" stroke-linecap="round"/>
<path d="M444.9,359.2 L452.7,358.7" fill="none" stroke="#000" stroke-width="1.12" stroke-linejoin="round" stroke-linecap="round"/>
<path d="M445.1,362.8 L453.05,362.3" fill="none" stroke="#000" stroke-width="1.12" stroke-linejoin="round" stroke-linecap="round"/>
<path d="M445.3,366.4 L453.4,365.9" fill="none" stroke="#000" stroke-width="1.12" stroke-linejoin="round" stroke-linecap="round"/>
<path d="M445.5,370 L453.75,369.5" fill="none" stroke="#000" stroke-width="1.12" stroke-linejoin="round" stroke-linecap="round"/>
<path d="M445.7,373.6 L454.1,373.1" fill="none" stroke="#000" stroke-width="1.12" stroke-linejoin="round" stroke-linecap="round"/>
<path d="M445.9,377.2 L454.45,376.7" fill="none" stroke="#000" stroke-width="1.12" stroke-linejoin="round" stroke-linecap="round"/>
<path d="M497,319 L503,318 L506,324 L500,326 Z" fill="#777" stroke="#000" stroke-width="0.00" stroke-linejoin="round" />
<path d="M470,382 L483,375" fill="none" stroke="#000" stroke-width="1.00" stroke-linejoin="round" stroke-linecap="round"/>
<path d="M489,372 L500,365" fill="none" stroke="#000" stroke-width="1.00" stroke-linejoin="round" stroke-linecap="round"/>
<path d="M463,356 L466,359 L464,367" fill="none" stroke="#000" stroke-width="1.25" stroke-linejoin="round" stroke-linecap="round"/>
<text x="464.5" y="375.40" font-size="9.1" text-anchor="middle" textLength="11.13" lengthAdjust="spacingAndGlyphs" stroke="#000" stroke-width="0.4">37</text>
<path d="M492,345 L497,345" fill="none" stroke="#000" stroke-width="1.12" stroke-linejoin="round" stroke-linecap="round"/>
<text x="486.4" y="348.40" font-size="9.1" text-anchor="middle" textLength="11.13" lengthAdjust="spacingAndGlyphs" stroke="#000" stroke-width="0.4">41</text>
<path d="M440,412 L441,415 L453,411" fill="none" stroke="#000" stroke-width="1.25" stroke-linejoin="round" stroke-linecap="round"/>
<path d="M465,402 L473,399 L477,401 L470,404 Z" fill="#333" stroke="#000" stroke-width="1.25" stroke-linejoin="round" />
<path d="M473,401 L478,402" fill="none" stroke="#000" stroke-width="1.12" stroke-linejoin="round" stroke-linecap="round"/>
<text x="484" y="405.20" font-size="9.1" text-anchor="middle" textLength="11.13" lengthAdjust="spacingAndGlyphs" stroke="#000" stroke-width="0.4">53</text>
<path d="M520.3,293.8 L594.7,249.5 L597.9,330.2 L523.5,373 Z" fill="#fff" stroke="#000" stroke-width="1.88" stroke-linejoin="round" />
<path d="M523.5,297 L595,253" fill="none" stroke="#000" stroke-width="1.38" stroke-linejoin="round" stroke-linecap="round"/>
<path d="M536.2,306.5 L586.8,278 L590,325.5 L542.5,354 Z" fill="#fff" stroke="#000" stroke-width="1.62" stroke-linejoin="round" />
<path d="M534,306 L587,276 L588,281 L537,310 Z" fill="#222" stroke="none"/>
<path d="M523.5,297 L536.2,306.5" fill="none" stroke="#000" stroke-width="1.25" stroke-linejoin="round" stroke-linecap="round"/>
<path d="M524,300 L542.5,354 L523.5,373" fill="none" stroke="#000" stroke-width="1.25" stroke-linejoin="round" stroke-linecap="round"/>
<path d="M542.5,354 L597,327" fill="none" stroke="#000" stroke-width="1.25" stroke-linejoin="round" stroke-linecap="round"/>
<path d="M582,311 L588,311" fill="none" stroke="#000" stroke-width="1.12" stroke-linejoin="round" stroke-linecap="round"/>
<text x="576.7" y="314.40" font-size="9.1" text-anchor="middle" textLength="11.13" lengthAdjust="spacingAndGlyphs" stroke="#000" stroke-width="0.4">42</text>
<circle cx="550.4" cy="335" r="1.5" fill="#fff" stroke="#000" stroke-width="1.1"/>
<path d="M552,333 L556,330" fill="none" stroke="#000" stroke-width="1.12" stroke-linejoin="round" stroke-linecap="round"/>
<text x="558.3" y="328.70" font-size="9.1" text-anchor="middle" textLength="11.13" lengthAdjust="spacingAndGlyphs" stroke="#000" stroke-width="0.4">61</text>
<path d="M509.2,381 L556.7,406.2 L560,408 L557,410.5 L509,385 Z" fill="#fff" stroke="#000" stroke-width="1.62" stroke-linejoin="round" />
<path d="M509,383 L510,376 L512.5,376" fill="none" stroke="#000" stroke-width="1.50" stroke-linejoin="round" stroke-linecap="round"/>
<path d="M532,394 L535,391" fill="none" stroke="#000" stroke-width="1.12" stroke-linejoin="round" stroke-linecap="round"/>
<text x="540.9" y="390.40" font-size="9.1" text-anchor="middle" textLength="11.13" lengthAdjust="spacingAndGlyphs" stroke="#000" stroke-width="0.4">22</text>
<path d="M271.2,337 L279.6,334.2 L281.7,336.3 L283,338 L284.5,385.6 L281.7,389.8 L274,388.4 L272.5,385 Z" fill="#fff" stroke="#000" stroke-width="1.75" stroke-linejoin="round" />
<path d="M279,336 L279.5,381 L283,385" fill="none" stroke="#000" stroke-width="1.38" stroke-linejoin="round" stroke-linecap="round"/>
<path d="M273.5,383 L279.5,381" fill="none" stroke="#000" stroke-width="1.25" stroke-linejoin="round" stroke-linecap="round"/>
<circle cx="274.7" cy="343.4" r="0.9" fill="#000" stroke="#000" stroke-width="0"/>
<circle cx="274.7" cy="348.3" r="0.9" fill="#000" stroke="#000" stroke-width="0"/>
<circle cx="274.7" cy="355.3" r="0.9" fill="#000" stroke="#000" stroke-width="0"/>
<path d="M288,330 L290.9,325.7 L292.5,325 L296.5,328.6 L297.2,380 L291.6,385.6 L288.5,386 Z" fill="#fff" stroke="#000" stroke-width="1.75" stroke-linejoin="round" />
<path d="M289.5,331 L289.5,346 L292.3,347.5 L292.3,366 L289.5,368 L289.8,384" fill="none" stroke="#000" stroke-width="1.25" stroke-linejoin="round" stroke-linecap="round"/>
<path d="M282,390 L286,401" fill="none" stroke="#000" stroke-width="1.25" stroke-linejoin="round" stroke-linecap="round"/>
<path d="M289,386 L287,401" fill="none" stroke="#000" stroke-width="1.25" stroke-linejoin="round" stroke-linecap="round"/>
<text x="286.7" y="412.00" font-size="9.1" text-anchor="middle" textLength="11.13" lengthAdjust="spacingAndGlyphs" stroke="#000" stroke-width="0.4">72</text>
<path d="M221,380 L221,400.8" fill="none" stroke="#000" stroke-width="2.50" stroke-linejoin="round" stroke-linecap="round"/>
<circle cx="221" cy="381" r="1.8" fill="#000" stroke="#000" stroke-width="0"/>
<circle cx="221" cy="387" r="1.8" fill="#000" stroke="#000" stroke-width="0"/>
<path d="M222.6,395.6 L231,395.6" fill="none" stroke="#000" stroke-width="1.25" stroke-linejoin="round" stroke-linecap="round"/>
<path d="M249,365 L249,383.3" fill="none" stroke="#000" stroke-width="2.25" stroke-linejoin="round" stroke-linecap="round"/>
<circle cx="249" cy="367" r="1.8" fill="#000" stroke="#000" stroke-width="0"/>
<circle cx="249" cy="372" r="1.8" fill="#000" stroke="#000" stroke-width="0"/>
<path d="M249,383 L245,390" fill="none" stroke="#000" stroke-width="1.12" stroke-linejoin="round" stroke-linecap="round"/>
<text x="238.4" y="398.80" font-size="9.1" text-anchor="middle" textLength="11.13" lengthAdjust="spacingAndGlyphs" stroke="#000" stroke-width="0.4">71</text>
<ellipse cx="320.8" cy="388" rx="5.8" ry="4.7" transform="rotate(0 320.8 388)" fill="#fff" stroke="#000" stroke-width="1.88"/>
<path d="M317,392.5 L314,397" fill="none" stroke="#000" stroke-width="1.12" stroke-linejoin="round" stroke-linecap="round"/>
<text x="312.9" y="405.40" font-size="9.1" text-anchor="middle" textLength="11.13" lengthAdjust="spacingAndGlyphs" stroke="#000" stroke-width="0.4">28</text>
<text x="304.5" y="431.80" font-size="9.1" text-anchor="middle" textLength="11.13" lengthAdjust="spacingAndGlyphs" stroke="#000" stroke-width="0.4">55</text>
<path d="M311,428 L318,427" fill="none" stroke="#000" stroke-width="1.25" stroke-linejoin="round" stroke-linecap="round"/>
<circle cx="320.3" cy="427" r="1.3" fill="#000" stroke="#000" stroke-width="0"/>
<path d="M332,372 L336,370.6 L340,373 L348,370 L352,374 L351,391.7 L340,391 L334,386 Z" fill="#fff" stroke="#000" stroke-width="1.75" stroke-linejoin="round" />
<circle cx="343.5" cy="379" r="2" fill="#fff" stroke="#000" stroke-width="1"/>
<path d="M337,378 L333,380" fill="none" stroke="#000" stroke-width="1.25" stroke-linejoin="round" stroke-linecap="round"/>
<path d="M339,391 L338.2,441.3" fill="none" stroke="#000" stroke-width="1.75" stroke-linejoin="round" stroke-linecap="round"/>
<path d="M335.5,441 L339.5,441 L340.4,454 L336,454 Z" fill="#fff" stroke="#000" stroke-width="1.50" stroke-linejoin="round" />
<path d="M349,391 L353,436" fill="none" stroke="#000" stroke-width="1.62" stroke-linejoin="round" stroke-linecap="round"/>
<path d="M351,391 L355,436" fill="none" stroke="#000" stroke-width="1.25" stroke-linejoin="round" stroke-linecap="round"/>
<circle cx="354.1" cy="441.3" r="6.5" fill="#fff" stroke="#000" stroke-width="1.5"/>
<circle cx="354.1" cy="441.3" r="2.5" fill="#333" stroke="#000" stroke-width="0"/>
<ellipse cx="338.2" cy="409" rx="4" ry="4.7" fill="#222"/>
<path d="M342,407.5 L356,407.5" fill="none" stroke="#000" stroke-width="1.25" stroke-linejoin="round" stroke-linecap="round"/>
<path d="M350,414 L356,408" fill="none" stroke="#000" stroke-width="1.12" stroke-linejoin="round" stroke-linecap="round"/>
<path d="M351,417 L361,418" fill="none" stroke="#000" stroke-width="1.12" stroke-linejoin="round" stroke-linecap="round"/>
<text x="361.5" y="407.50" font-size="9.1" text-anchor="middle" textLength="11.13" lengthAdjust="spacingAndGlyphs" stroke="#000" stroke-width="0.4">21</text>
<text x="367.8" y="421.30" font-size="9.1" text-anchor="middle" textLength="11.13" lengthAdjust="spacingAndGlyphs" stroke="#000" stroke-width="0.4">20</text>
<path d="M333,359 L337,361 L340.4,359 L351,355.8" fill="none" stroke="#000" stroke-width="1.62" stroke-linejoin="round" stroke-linecap="round"/>
<path d="M362,354 L366.7,352.7 L371,348.4 L373,344.2 L376,345" fill="none" stroke="#000" stroke-width="1.50" stroke-linejoin="round" stroke-linecap="round"/>
<text x="358.3" y="359.00" font-size="9.1" text-anchor="middle" textLength="11.13" lengthAdjust="spacingAndGlyphs" stroke="#000" stroke-width="0.4">26</text>
<text x="388" y="406.3" font-size="7.8" stroke="#000" stroke-width="0.3">Therm.</text>
<text x="389.4" y="418.8" font-size="7.8" stroke="#000" stroke-width="0.3">Man.</text>
<circle cx="390" cy="422.5" r="0.7" fill="#000" stroke="#000" stroke-width="0"/>
<circle cx="390" cy="425.5" r="0.7" fill="#000" stroke="#000" stroke-width="0"/>
<text x="98" y="516" font-size="13.4" textLength="232" lengthAdjust="spacingAndGlyphs" stroke="#000" stroke-width="0.3">76T, 76GT, 76TF, 77T, 77GT &amp; 77TF</text>
</svg>
</body></html>
